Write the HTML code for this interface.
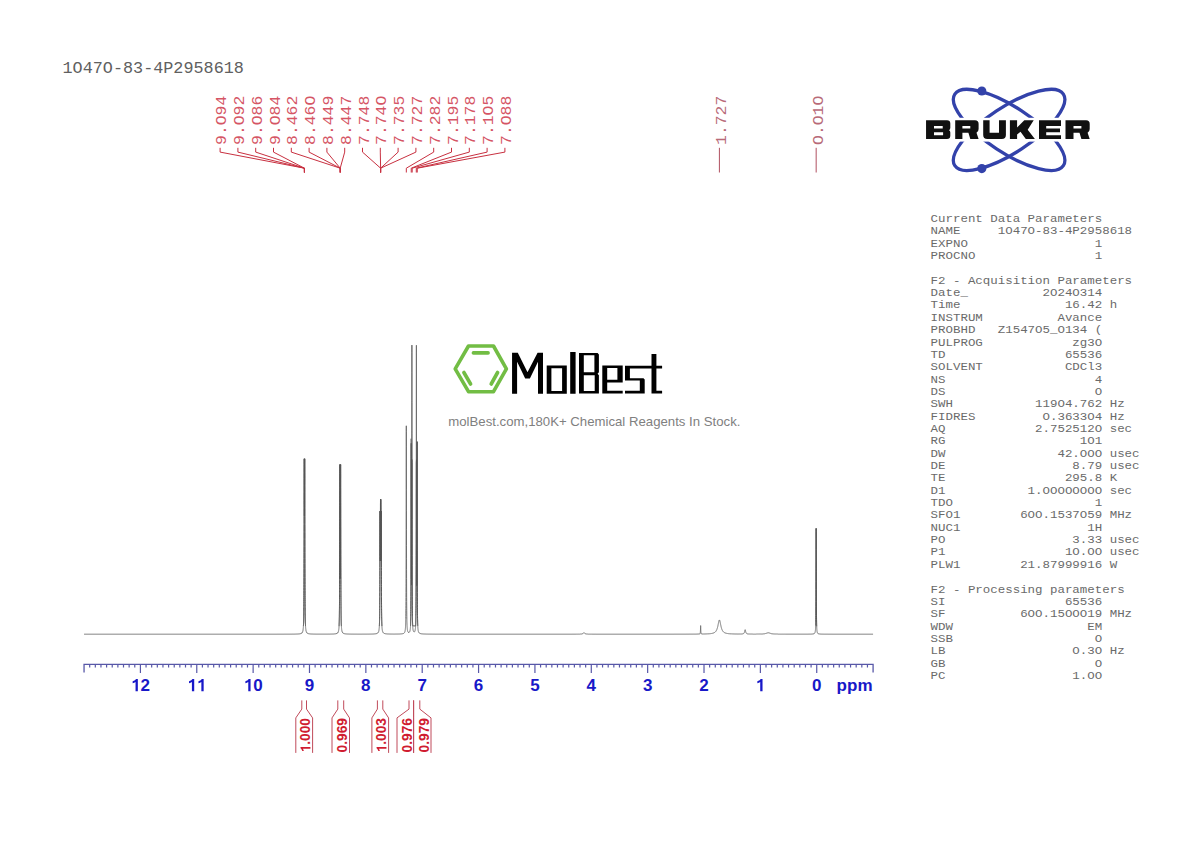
<!DOCTYPE html><html><head><meta charset="utf-8"><style>html,body{margin:0;padding:0;background:#fff;width:1190px;height:842px;overflow:hidden}svg{display:block}</style></head><body>
<svg width="1190" height="842" viewBox="0 0 1190 842">
<rect width="1190" height="842" fill="#fff"/>
<text transform="translate(62.5,72.6) scale(1,0.93)" font-family="Liberation Mono" font-size="16.8" fill="#606060">1O47O-83-4P2958618</text>
<text transform="translate(226.10,144.9) rotate(-90) scale(1,0.87)" font-family="Liberation Mono" font-size="16.4" fill="#d55565">9.O94</text>
<path d="M220.10 147.8V152.1L304.42 168.2V172.5" fill="none" stroke="#c83040" stroke-width="1"/>
<text transform="translate(243.90,144.9) rotate(-90) scale(1,0.87)" font-family="Liberation Mono" font-size="16.4" fill="#d55565">9.O92</text>
<path d="M237.90 147.8V152.1L304.42 168.2V172.5" fill="none" stroke="#c83040" stroke-width="1"/>
<text transform="translate(261.70,144.9) rotate(-90) scale(1,0.87)" font-family="Liberation Mono" font-size="16.4" fill="#d55565">9.O86</text>
<path d="M255.70 147.8V152.1L304.42 168.2V172.5" fill="none" stroke="#c83040" stroke-width="1"/>
<text transform="translate(279.50,144.9) rotate(-90) scale(1,0.87)" font-family="Liberation Mono" font-size="16.4" fill="#d55565">9.O84</text>
<path d="M273.50 147.8V152.1L304.42 168.2V172.5" fill="none" stroke="#c83040" stroke-width="1"/>
<text transform="translate(297.30,144.9) rotate(-90) scale(1,0.87)" font-family="Liberation Mono" font-size="16.4" fill="#d55565">8.462</text>
<path d="M291.30 147.8V152.1L340.21 168.2V172.5" fill="none" stroke="#c83040" stroke-width="1"/>
<text transform="translate(315.10,144.9) rotate(-90) scale(1,0.87)" font-family="Liberation Mono" font-size="16.4" fill="#d55565">8.46O</text>
<path d="M309.10 147.8V152.1L340.21 168.2V172.5" fill="none" stroke="#c83040" stroke-width="1"/>
<text transform="translate(332.90,144.9) rotate(-90) scale(1,0.87)" font-family="Liberation Mono" font-size="16.4" fill="#d55565">8.449</text>
<path d="M326.90 147.8V152.1L340.21 168.2V172.5" fill="none" stroke="#c83040" stroke-width="1"/>
<text transform="translate(350.70,144.9) rotate(-90) scale(1,0.87)" font-family="Liberation Mono" font-size="16.4" fill="#d55565">8.447</text>
<path d="M344.70 147.8V152.1L340.21 168.2V172.5" fill="none" stroke="#c83040" stroke-width="1"/>
<text transform="translate(368.50,144.9) rotate(-90) scale(1,0.87)" font-family="Liberation Mono" font-size="16.4" fill="#d55565">7.748</text>
<path d="M362.50 147.8V152.1L380.62 168.2V172.5" fill="none" stroke="#c83040" stroke-width="1"/>
<text transform="translate(386.30,144.9) rotate(-90) scale(1,0.87)" font-family="Liberation Mono" font-size="16.4" fill="#d55565">7.74O</text>
<path d="M380.30 147.8V152.1L380.62 168.2V172.5" fill="none" stroke="#c83040" stroke-width="1"/>
<text transform="translate(404.10,144.9) rotate(-90) scale(1,0.87)" font-family="Liberation Mono" font-size="16.4" fill="#d55565">7.735</text>
<path d="M398.10 147.8V152.1L380.62 168.2V172.5" fill="none" stroke="#c83040" stroke-width="1"/>
<text transform="translate(421.90,144.9) rotate(-90) scale(1,0.87)" font-family="Liberation Mono" font-size="16.4" fill="#d55565">7.727</text>
<path d="M415.90 147.8V152.1L380.62 168.2V172.5" fill="none" stroke="#c83040" stroke-width="1"/>
<text transform="translate(439.70,144.9) rotate(-90) scale(1,0.87)" font-family="Liberation Mono" font-size="16.4" fill="#d55565">7.282</text>
<path d="M433.70 147.8V152.1L406.32 168.2V172.5" fill="none" stroke="#c83040" stroke-width="1"/>
<text transform="translate(457.50,144.9) rotate(-90) scale(1,0.87)" font-family="Liberation Mono" font-size="16.4" fill="#d55565">7.195</text>
<path d="M451.50 147.8V152.1L411.22 168.2V172.5" fill="none" stroke="#c83040" stroke-width="1"/>
<text transform="translate(475.30,144.9) rotate(-90) scale(1,0.87)" font-family="Liberation Mono" font-size="16.4" fill="#d55565">7.178</text>
<path d="M469.30 147.8V152.1L412.18 168.2V172.5" fill="none" stroke="#c83040" stroke-width="1"/>
<text transform="translate(493.10,144.9) rotate(-90) scale(1,0.87)" font-family="Liberation Mono" font-size="16.4" fill="#d55565">7.1O5</text>
<path d="M487.10 147.8V152.1L416.29 168.2V172.5" fill="none" stroke="#c83040" stroke-width="1"/>
<text transform="translate(510.90,144.9) rotate(-90) scale(1,0.87)" font-family="Liberation Mono" font-size="16.4" fill="#d55565">7.O88</text>
<path d="M504.90 147.8V152.1L417.25 168.2V172.5" fill="none" stroke="#c83040" stroke-width="1"/>
<text transform="translate(725.80,144.9) rotate(-90) scale(1,0.87)" font-family="Liberation Mono" font-size="16.4" fill="#b86a78">1.727</text>
<path d="M719.40 147.8V172.5" fill="none" stroke="#b05060" stroke-width="1"/>
<text transform="translate(822.57,144.9) rotate(-90) scale(1,0.87)" font-family="Liberation Mono" font-size="16.4" fill="#b86a78">O.O1O</text>
<path d="M816.17 147.8V172.5" fill="none" stroke="#b05060" stroke-width="1"/>
<path d="M84.05 672.6V664.3H873.09V672.6" fill="none" stroke="#5858a8" stroke-width="1.3"/>
<path d="M89.69 664.3V667.5M95.32 664.3V667.5M100.96 664.3V667.5M106.59 664.3V667.5M112.23 664.3V667.5M117.87 664.3V667.5M123.50 664.3V667.5M129.14 664.3V667.5M134.77 664.3V667.5M140.41 664.3V673M146.05 664.3V667.5M151.68 664.3V667.5M157.32 664.3V667.5M162.95 664.3V667.5M168.59 664.3V667.5M174.23 664.3V667.5M179.86 664.3V667.5M185.50 664.3V667.5M191.13 664.3V667.5M196.77 664.3V673M202.41 664.3V667.5M208.04 664.3V667.5M213.68 664.3V667.5M219.31 664.3V667.5M224.95 664.3V667.5M230.59 664.3V667.5M236.22 664.3V667.5M241.86 664.3V667.5M247.49 664.3V667.5M253.13 664.3V673M258.77 664.3V667.5M264.40 664.3V667.5M270.04 664.3V667.5M275.67 664.3V667.5M281.31 664.3V667.5M286.95 664.3V667.5M292.58 664.3V667.5M298.22 664.3V667.5M303.85 664.3V667.5M309.49 664.3V673M315.13 664.3V667.5M320.76 664.3V667.5M326.40 664.3V667.5M332.03 664.3V667.5M337.67 664.3V667.5M343.31 664.3V667.5M348.94 664.3V667.5M354.58 664.3V667.5M360.21 664.3V667.5M365.85 664.3V673M371.49 664.3V667.5M377.12 664.3V667.5M382.76 664.3V667.5M388.39 664.3V667.5M394.03 664.3V667.5M399.67 664.3V667.5M405.30 664.3V667.5M410.94 664.3V667.5M416.57 664.3V667.5M422.21 664.3V673M427.85 664.3V667.5M433.48 664.3V667.5M439.12 664.3V667.5M444.75 664.3V667.5M450.39 664.3V667.5M456.03 664.3V667.5M461.66 664.3V667.5M467.30 664.3V667.5M472.93 664.3V667.5M478.57 664.3V673M484.21 664.3V667.5M489.84 664.3V667.5M495.48 664.3V667.5M501.11 664.3V667.5M506.75 664.3V667.5M512.39 664.3V667.5M518.02 664.3V667.5M523.66 664.3V667.5M529.29 664.3V667.5M534.93 664.3V673M540.57 664.3V667.5M546.20 664.3V667.5M551.84 664.3V667.5M557.47 664.3V667.5M563.11 664.3V667.5M568.75 664.3V667.5M574.38 664.3V667.5M580.02 664.3V667.5M585.65 664.3V667.5M591.29 664.3V673M596.93 664.3V667.5M602.56 664.3V667.5M608.20 664.3V667.5M613.83 664.3V667.5M619.47 664.3V667.5M625.11 664.3V667.5M630.74 664.3V667.5M636.38 664.3V667.5M642.01 664.3V667.5M647.65 664.3V673M653.29 664.3V667.5M658.92 664.3V667.5M664.56 664.3V667.5M670.19 664.3V667.5M675.83 664.3V667.5M681.47 664.3V667.5M687.10 664.3V667.5M692.74 664.3V667.5M698.37 664.3V667.5M704.01 664.3V673M709.65 664.3V667.5M715.28 664.3V667.5M720.92 664.3V667.5M726.55 664.3V667.5M732.19 664.3V667.5M737.83 664.3V667.5M743.46 664.3V667.5M749.10 664.3V667.5M754.73 664.3V667.5M760.37 664.3V673M766.01 664.3V667.5M771.64 664.3V667.5M777.28 664.3V667.5M782.91 664.3V667.5M788.55 664.3V667.5M794.19 664.3V667.5M799.82 664.3V667.5M805.46 664.3V667.5M811.09 664.3V667.5M816.73 664.3V673M822.37 664.3V667.5M828.00 664.3V667.5M833.64 664.3V667.5M839.27 664.3V667.5M844.91 664.3V667.5M850.55 664.3V667.5M856.18 664.3V667.5M861.82 664.3V667.5M867.45 664.3V667.5" fill="none" stroke="#5858a8" stroke-width="1.2"/>
<text x="812.00" y="691.2" font-family="Liberation Sans" font-weight="bold" font-size="17" fill="#1818c8">0</text>
<path transform="translate(755.64,691.20) scale(17,-17)" d="M0.27 0H0.405V0.716H0.30Q0.27 0.64 0.10 0.585V0.475Q0.20 0.50 0.27 0.545Z" fill="#1818c8"/>
<text x="699.28" y="691.2" font-family="Liberation Sans" font-weight="bold" font-size="17" fill="#1818c8">2</text>
<text x="642.92" y="691.2" font-family="Liberation Sans" font-weight="bold" font-size="17" fill="#1818c8">3</text>
<text x="586.56" y="691.2" font-family="Liberation Sans" font-weight="bold" font-size="17" fill="#1818c8">4</text>
<text x="530.20" y="691.2" font-family="Liberation Sans" font-weight="bold" font-size="17" fill="#1818c8">5</text>
<text x="473.84" y="691.2" font-family="Liberation Sans" font-weight="bold" font-size="17" fill="#1818c8">6</text>
<text x="417.48" y="691.2" font-family="Liberation Sans" font-weight="bold" font-size="17" fill="#1818c8">7</text>
<text x="361.12" y="691.2" font-family="Liberation Sans" font-weight="bold" font-size="17" fill="#1818c8">8</text>
<text x="304.76" y="691.2" font-family="Liberation Sans" font-weight="bold" font-size="17" fill="#1818c8">9</text>
<path transform="translate(243.68,691.20) scale(17,-17)" d="M0.27 0H0.405V0.716H0.30Q0.27 0.64 0.10 0.585V0.475Q0.20 0.50 0.27 0.545Z" fill="#1818c8"/>
<text x="253.13" y="691.2" font-family="Liberation Sans" font-weight="bold" font-size="17" fill="#1818c8">0</text>
<path transform="translate(187.32,691.20) scale(17,-17)" d="M0.27 0H0.405V0.716H0.30Q0.27 0.64 0.10 0.585V0.475Q0.20 0.50 0.27 0.545Z" fill="#1818c8"/>
<path transform="translate(196.77,691.20) scale(17,-17)" d="M0.27 0H0.405V0.716H0.30Q0.27 0.64 0.10 0.585V0.475Q0.20 0.50 0.27 0.545Z" fill="#1818c8"/>
<path transform="translate(130.96,691.20) scale(17,-17)" d="M0.27 0H0.405V0.716H0.30Q0.27 0.64 0.10 0.585V0.475Q0.20 0.50 0.27 0.545Z" fill="#1818c8"/>
<text x="140.41" y="691.2" font-family="Liberation Sans" font-weight="bold" font-size="17" fill="#1818c8">2</text>
<text x="872.5" y="691.2" text-anchor="end" font-family="Liberation Sans" font-weight="bold" font-size="17" fill="#1818c8">ppm</text>
<polyline points="84.05,634.20 84.55,634.20 85.05,634.20 85.55,634.20 86.05,634.20 86.55,634.20 87.05,634.20 87.55,634.20 88.05,634.20 88.55,634.20 89.05,634.20 89.55,634.20 90.05,634.20 90.55,634.20 91.05,634.20 91.55,634.20 92.05,634.20 92.55,634.20 93.05,634.20 93.55,634.20 94.05,634.20 94.55,634.20 95.05,634.20 95.55,634.20 96.05,634.20 96.55,634.20 97.05,634.20 97.55,634.20 98.05,634.20 98.55,634.20 99.05,634.20 99.55,634.20 100.05,634.20 100.55,634.20 101.05,634.20 101.55,634.20 102.05,634.20 102.55,634.20 103.05,634.20 103.55,634.20 104.05,634.20 104.55,634.20 105.05,634.20 105.55,634.20 106.05,634.20 106.55,634.20 107.05,634.20 107.55,634.20 108.05,634.20 108.55,634.20 109.05,634.20 109.55,634.20 110.05,634.20 110.55,634.20 111.05,634.20 111.55,634.20 112.05,634.20 112.55,634.20 113.05,634.20 113.55,634.20 114.05,634.20 114.55,634.20 115.05,634.20 115.55,634.20 116.05,634.20 116.55,634.20 117.05,634.20 117.55,634.20 118.05,634.20 118.55,634.20 119.05,634.20 119.55,634.20 120.05,634.20 120.55,634.20 121.05,634.20 121.55,634.20 122.05,634.20 122.55,634.20 123.05,634.20 123.55,634.20 124.05,634.20 124.55,634.20 125.05,634.20 125.55,634.20 126.05,634.20 126.55,634.20 127.05,634.20 127.55,634.20 128.05,634.20 128.55,634.20 129.05,634.20 129.55,634.20 130.05,634.20 130.55,634.20 131.05,634.20 131.55,634.20 132.05,634.20 132.55,634.20 133.05,634.20 133.55,634.20 134.05,634.20 134.55,634.20 135.05,634.20 135.55,634.20 136.05,634.20 136.55,634.20 137.05,634.20 137.55,634.20 138.05,634.20 138.55,634.20 139.05,634.20 139.55,634.20 140.05,634.20 140.55,634.20 141.05,634.20 141.55,634.20 142.05,634.20 142.55,634.20 143.05,634.20 143.55,634.20 144.05,634.20 144.55,634.20 145.05,634.20 145.55,634.20 146.05,634.20 146.55,634.20 147.05,634.20 147.55,634.20 148.05,634.20 148.55,634.20 149.05,634.20 149.55,634.20 150.05,634.20 150.55,634.20 151.05,634.20 151.55,634.20 152.05,634.20 152.55,634.20 153.05,634.20 153.55,634.20 154.05,634.20 154.55,634.20 155.05,634.20 155.55,634.20 156.05,634.20 156.55,634.20 157.05,634.20 157.55,634.20 158.05,634.20 158.55,634.20 159.05,634.20 159.55,634.20 160.05,634.20 160.55,634.20 161.05,634.20 161.55,634.20 162.05,634.20 162.55,634.20 163.05,634.20 163.55,634.20 164.05,634.20 164.55,634.20 165.05,634.20 165.55,634.20 166.05,634.20 166.55,634.20 167.05,634.20 167.55,634.20 168.05,634.20 168.55,634.20 169.05,634.20 169.55,634.20 170.05,634.20 170.55,634.20 171.05,634.20 171.55,634.20 172.05,634.20 172.55,634.20 173.05,634.20 173.55,634.20 174.05,634.20 174.55,634.20 175.05,634.20 175.55,634.20 176.05,634.20 176.55,634.20 177.05,634.20 177.55,634.20 178.05,634.20 178.55,634.20 179.05,634.20 179.55,634.20 180.05,634.20 180.55,634.20 181.05,634.20 181.55,634.20 182.05,634.20 182.55,634.20 183.05,634.20 183.55,634.20 184.05,634.20 184.55,634.20 185.05,634.20 185.55,634.20 186.05,634.20 186.55,634.20 187.05,634.20 187.55,634.20 188.05,634.20 188.55,634.20 189.05,634.20 189.55,634.20 190.05,634.20 190.55,634.20 191.05,634.20 191.55,634.20 192.05,634.20 192.55,634.20 193.05,634.20 193.55,634.20 194.05,634.20 194.55,634.20 195.05,634.20 195.55,634.20 196.05,634.20 196.55,634.20 197.05,634.20 197.55,634.20 198.05,634.20 198.55,634.20 199.05,634.20 199.55,634.20 200.05,634.20 200.55,634.20 201.05,634.20 201.55,634.20 202.05,634.20 202.55,634.20 203.05,634.20 203.55,634.20 204.05,634.20 204.55,634.20 205.05,634.20 205.55,634.20 206.05,634.20 206.55,634.20 207.05,634.20 207.55,634.20 208.05,634.20 208.55,634.20 209.05,634.20 209.55,634.20 210.05,634.20 210.55,634.20 211.05,634.20 211.55,634.20 212.05,634.20 212.55,634.20 213.05,634.20 213.55,634.20 214.05,634.20 214.55,634.20 215.05,634.20 215.55,634.20 216.05,634.20 216.55,634.20 217.05,634.20 217.55,634.20 218.05,634.20 218.55,634.20 219.05,634.20 219.55,634.20 220.05,634.20 220.55,634.20 221.05,634.20 221.55,634.20 222.05,634.20 222.55,634.20 223.05,634.20 223.55,634.20 224.05,634.20 224.55,634.20 225.05,634.20 225.55,634.20 226.05,634.20 226.55,634.20 227.05,634.20 227.55,634.20 228.05,634.20 228.55,634.20 229.05,634.20 229.55,634.20 230.05,634.20 230.55,634.20 231.05,634.20 231.55,634.20 232.05,634.20 232.55,634.20 233.05,634.20 233.55,634.20 234.05,634.20 234.55,634.20 235.05,634.20 235.55,634.20 236.05,634.20 236.55,634.20 237.05,634.20 237.55,634.20 238.05,634.20 238.55,634.20 239.05,634.20 239.55,634.20 240.05,634.20 240.55,634.20 241.05,634.20 241.55,634.20 242.05,634.20 242.55,634.20 243.05,634.20 243.55,634.20 244.05,634.20 244.55,634.20 245.05,634.20 245.55,634.20 246.05,634.20 246.55,634.20 247.05,634.20 247.55,634.20 248.05,634.20 248.55,634.19 249.05,634.19 249.55,634.19 250.05,634.19 250.55,634.19 251.05,634.19 251.55,634.19 252.05,634.19 252.55,634.19 253.05,634.19 253.55,634.19 254.05,634.19 254.55,634.19 255.05,634.19 255.55,634.19 256.05,634.19 256.55,634.19 257.05,634.19 257.55,634.19 258.05,634.19 258.55,634.19 259.05,634.19 259.55,634.19 260.05,634.19 260.55,634.19 261.05,634.19 261.55,634.19 262.05,634.19 262.55,634.19 263.05,634.19 263.55,634.19 264.05,634.19 264.55,634.19 265.05,634.19 265.55,634.19 266.05,634.19 266.55,634.19 267.05,634.19 267.55,634.19 268.05,634.19 268.55,634.19 269.05,634.19 269.55,634.19 270.05,634.19 270.55,634.19 271.05,634.19 271.55,634.19 272.05,634.19 272.55,634.19 273.05,634.19 273.55,634.19 274.05,634.19 274.55,634.19 275.05,634.19 275.55,634.19 276.05,634.19 276.55,634.19 277.05,634.19 277.55,634.18 278.05,634.18 278.55,634.18 279.05,634.18 279.55,634.18 280.05,634.18 280.55,634.18 281.05,634.18 281.55,634.18 282.05,634.18 282.55,634.18 283.05,634.18 283.55,634.18 284.05,634.18 284.55,634.17 285.05,634.17 285.55,634.17 286.05,634.17 286.55,634.17 287.05,634.17 287.55,634.17 288.05,634.16 288.55,634.16 289.05,634.16 289.55,634.16 290.05,634.16 290.55,634.15 291.05,634.15 291.55,634.15 292.05,634.14 292.55,634.14 293.05,634.13 293.55,634.13 294.05,634.12 294.55,634.11 295.05,634.10 295.55,634.09 296.05,634.08 296.55,634.06 297.05,634.05 297.55,634.02 298.05,634.00 298.55,633.96 299.05,633.92 299.55,633.86 300.05,633.78 300.55,633.66 301.05,633.50 301.29,633.39 301.32,633.37 301.34,633.36 301.37,633.35 301.39,633.33 301.40,633.33 301.42,633.32 301.43,633.31 301.44,633.30 301.45,633.30 301.47,633.29 301.48,633.28 301.49,633.27 301.50,633.26 301.52,633.26 301.53,633.25 301.54,633.24 301.55,633.24 301.56,633.23 301.57,633.22 301.58,633.22 301.59,633.21 301.61,633.20 301.62,633.19 301.63,633.18 301.64,633.17 301.65,633.16 301.67,633.15 301.68,633.14 301.69,633.13 301.70,633.12 301.72,633.11 301.73,633.10 301.74,633.09 301.74,633.09 301.75,633.08 301.77,633.07 301.77,633.07 301.78,633.06 301.79,633.05 301.79,633.05 301.81,633.04 301.82,633.03 301.82,633.03 301.83,633.02 301.84,633.01 301.84,633.01 301.86,633.00 301.86,632.99 301.87,632.98 301.87,632.98 301.88,632.97 301.88,632.97 301.89,632.96 301.89,632.96 301.90,632.95 301.91,632.95 301.92,632.94 301.92,632.93 301.93,632.92 301.93,632.92 301.94,632.91 301.94,632.91 301.95,632.90 301.96,632.90 301.97,632.88 301.97,632.88 301.98,632.87 301.98,632.87 301.99,632.86 301.99,632.86 302.00,632.84 302.01,632.84 302.02,632.83 302.02,632.83 302.03,632.81 302.03,632.81 302.04,632.80 302.04,632.80 302.05,632.79 302.06,632.78 302.06,632.78 302.07,632.77 302.07,632.77 302.08,632.75 302.08,632.75 302.09,632.74 302.09,632.74 302.11,632.72 302.11,632.72 302.12,632.71 302.12,632.71 302.13,632.69 302.13,632.69 302.14,632.67 302.14,632.67 302.15,632.66 302.16,632.66 302.17,632.64 302.17,632.64 302.18,632.62 302.18,632.62 302.19,632.61 302.19,632.60 302.20,632.59 302.21,632.59 302.22,632.57 302.22,632.57 302.23,632.55 302.23,632.55 302.24,632.53 302.24,632.53 302.25,632.51 302.26,632.51 302.27,632.49 302.27,632.49 302.28,632.47 302.28,632.47 302.29,632.45 302.29,632.45 302.31,632.43 302.31,632.43 302.32,632.41 302.32,632.41 302.33,632.39 302.33,632.39 302.34,632.37 302.34,632.37 302.36,632.34 302.36,632.34 302.37,632.32 302.37,632.32 302.38,632.30 302.38,632.30 302.39,632.28 302.39,632.27 302.40,632.25 302.41,632.25 302.42,632.23 302.42,632.23 302.43,632.20 302.43,632.20 302.44,632.18 302.44,632.18 302.45,632.15 302.46,632.15 302.47,632.13 302.47,632.12 302.48,632.10 302.48,632.10 302.49,632.07 302.49,632.07 302.50,632.04 302.51,632.04 302.52,632.01 302.52,632.01 302.53,631.98 302.53,631.98 302.54,631.96 302.54,631.95 302.55,631.94 302.56,631.92 302.56,631.92 302.57,631.89 302.57,631.89 302.58,631.86 302.58,631.86 302.59,631.83 302.59,631.83 302.61,631.80 302.61,631.79 302.62,631.76 302.62,631.76 302.63,631.73 302.63,631.73 302.64,631.70 302.64,631.69 302.65,631.66 302.66,631.66 302.67,631.62 302.67,631.62 302.68,631.58 302.68,631.58 302.69,631.55 302.69,631.54 302.70,631.51 302.71,631.50 302.72,631.47 302.72,631.46 302.73,631.43 302.73,631.42 302.74,631.39 302.74,631.38 302.75,631.34 302.76,631.34 302.77,631.30 302.77,631.29 302.78,631.25 302.78,631.25 302.79,631.21 302.79,631.20 302.81,631.16 302.81,631.15 302.82,631.11 302.82,631.11 302.83,631.06 302.83,631.06 302.84,631.01 302.84,631.01 302.86,630.96 302.86,630.95 302.87,630.91 302.87,630.90 302.88,630.85 302.88,630.85 302.89,630.80 302.89,630.79 302.90,630.74 302.91,630.73 302.92,630.68 302.92,630.68 302.93,630.62 302.93,630.61 302.94,630.56 302.94,630.55 302.95,630.49 302.96,630.49 302.97,630.43 302.97,630.42 302.98,630.36 302.98,630.35 302.99,630.29 302.99,630.29 303.00,630.22 303.01,630.21 303.02,630.15 303.02,630.14 303.03,630.07 303.03,630.07 303.04,630.00 303.04,629.99 303.05,629.95 303.06,629.92 303.06,629.91 303.07,629.84 303.07,629.83 303.08,629.75 303.08,629.74 303.09,629.67 303.09,629.66 303.11,629.58 303.11,629.57 303.12,629.49 303.12,629.48 303.13,629.39 303.13,629.38 303.14,629.30 303.14,629.29 303.15,629.19 303.16,629.18 303.17,629.09 303.17,629.08 303.18,628.98 303.18,628.97 303.19,628.87 303.19,628.87 303.20,628.76 303.21,628.75 303.22,628.64 303.22,628.63 303.23,628.52 303.23,628.51 303.24,628.40 303.24,628.38 303.25,628.26 303.26,628.25 303.27,628.13 303.27,628.12 303.28,627.98 303.28,627.97 303.29,627.85 303.29,627.83 303.31,627.69 303.31,627.68 303.32,627.54 303.32,627.53 303.33,627.37 303.33,627.36 303.34,627.21 303.34,627.20 303.36,627.03 303.36,627.02 303.37,626.86 303.37,626.85 303.38,626.67 303.38,626.65 303.39,626.48 303.39,626.46 303.40,626.27 303.41,626.25 303.42,626.07 303.42,626.05 303.43,625.84 303.43,625.82 303.44,625.62 303.44,625.60 303.45,625.37 303.46,625.35 303.47,625.13 303.47,625.11 303.48,624.86 303.48,624.84 303.49,624.60 303.49,624.58 303.50,624.30 303.51,624.28 303.52,624.02 303.52,623.99 303.53,623.70 303.53,623.67 303.54,623.38 303.54,623.36 303.55,623.17 303.56,623.03 303.56,623.00 303.57,622.68 303.57,622.65 303.58,622.29 303.58,622.26 303.59,621.91 303.59,621.88 303.61,621.48 303.61,621.45 303.62,621.06 303.62,621.02 303.63,620.58 303.63,620.54 303.64,620.11 303.64,620.07 303.65,619.57 303.66,619.53 303.67,619.05 303.67,619.01 303.68,618.45 303.68,618.40 303.69,617.87 303.69,617.82 303.70,617.19 303.71,617.14 303.72,616.53 303.72,616.48 303.73,615.77 303.73,615.71 303.74,615.02 303.74,614.96 303.75,614.16 303.76,614.09 303.77,613.31 303.77,613.24 303.78,612.32 303.78,612.25 303.79,611.35 303.79,611.27 303.81,610.22 303.81,610.13 303.82,609.10 303.82,609.00 303.83,607.79 303.83,607.68 303.84,606.49 303.84,606.38 303.86,604.97 303.86,604.85 303.87,603.45 303.87,603.32 303.88,601.68 303.88,601.53 303.89,599.89 303.89,599.74 303.90,597.80 303.91,597.63 303.92,595.69 303.92,595.51 303.93,593.21 303.93,593.01 303.94,590.70 303.94,590.48 303.95,587.73 303.96,587.49 303.97,584.73 303.97,584.47 303.98,581.17 303.98,580.88 303.99,577.57 303.99,577.25 304.00,573.29 304.01,572.94 304.02,568.96 304.02,568.58 304.03,563.82 304.03,563.41 304.04,558.64 304.04,558.19 304.05,554.95 304.06,552.53 304.06,552.04 304.07,546.43 304.07,545.90 304.08,539.31 304.08,538.74 304.09,532.30 304.09,531.70 304.11,524.32 304.11,523.69 304.12,516.67 304.12,516.02 304.13,508.25 304.13,507.60 304.14,500.52 304.14,499.88 304.15,492.42 304.16,491.82 304.17,485.43 304.17,484.87 304.18,478.58 304.18,478.09 304.19,473.09 304.19,472.67 304.20,468.14 304.21,467.80 304.22,464.52 304.22,464.26 304.23,461.63 304.23,461.45 304.24,459.85 304.24,459.74 304.25,458.86 304.26,458.82 304.27,458.80 304.27,458.84 304.28,459.69 304.28,459.80 304.29,461.42 304.29,461.60 304.31,464.27 304.31,464.54 304.32,467.77 304.32,468.10 304.33,472.38 304.33,472.76 304.34,477.22 304.34,477.64 304.36,482.85 304.36,483.29 304.37,488.18 304.37,488.62 304.38,493.84 304.38,494.26 304.39,498.77 304.39,499.16 304.40,503.59 304.41,503.94 304.42,507.46 304.42,507.75 304.43,510.90 304.43,511.13 304.44,513.34 304.44,513.51 304.45,515.13 304.46,515.23 304.47,515.97 304.47,516.01 304.48,516.00 304.48,515.97 304.49,515.22 304.49,515.12 304.50,513.49 304.51,513.32 304.52,511.12 304.52,510.88 304.53,507.73 304.53,507.43 304.54,503.91 304.54,503.57 304.55,501.04 304.56,499.13 304.56,498.73 304.57,494.23 304.57,493.81 304.58,488.58 304.58,488.14 304.59,483.26 304.59,482.81 304.61,477.60 304.61,477.18 304.62,472.73 304.62,472.35 304.63,468.07 304.63,467.75 304.64,464.51 304.64,464.25 304.65,461.59 304.66,461.41 304.67,459.80 304.67,459.69 304.68,458.83 304.68,458.80 304.69,458.82 304.69,458.86 304.70,459.75 304.71,459.86 304.72,461.46 304.72,461.64 304.73,464.29 304.73,464.55 304.74,467.83 304.74,468.16 304.75,472.70 304.76,473.12 304.77,478.13 304.77,478.62 304.78,484.91 304.78,485.47 304.79,491.87 304.79,492.47 304.81,499.93 304.81,500.57 304.82,507.65 304.82,508.30 304.83,516.08 304.83,516.72 304.84,523.74 304.84,524.37 304.86,531.75 304.86,532.35 304.87,538.78 304.87,539.35 304.88,545.94 304.88,546.47 304.89,552.08 304.89,552.57 304.90,558.23 304.91,558.68 304.92,563.44 304.92,563.86 304.93,568.61 304.93,568.99 304.94,572.97 304.94,573.32 304.95,577.28 304.96,577.59 304.97,580.91 304.97,581.20 304.98,584.49 304.98,584.75 304.99,587.51 304.99,587.75 305.00,590.50 305.01,590.72 305.02,593.02 305.02,593.22 305.03,595.52 305.03,595.71 305.04,597.64 305.04,597.81 305.05,598.96 305.06,599.75 305.06,599.91 305.07,601.54 305.07,601.69 305.08,603.33 305.08,603.46 305.09,604.86 305.09,604.98 305.11,606.39 305.11,606.50 305.12,607.69 305.12,607.80 305.13,609.01 305.13,609.10 305.14,610.13 305.14,610.23 305.15,611.27 305.16,611.36 305.17,612.25 305.17,612.33 305.18,613.24 305.18,613.31 305.19,614.10 305.19,614.17 305.20,614.96 305.21,615.03 305.22,615.72 305.22,615.78 305.23,616.48 305.23,616.54 305.24,617.14 305.24,617.20 305.25,617.82 305.26,617.87 305.27,618.41 305.27,618.46 305.28,619.01 305.28,619.05 305.29,619.53 305.29,619.58 305.31,620.07 305.31,620.11 305.32,620.54 305.32,620.58 305.33,621.02 305.33,621.06 305.34,621.45 305.34,621.48 305.36,621.88 305.36,621.91 305.37,622.26 305.37,622.29 305.38,622.66 305.38,622.69 305.39,623.00 305.39,623.03 305.40,623.36 305.41,623.38 305.42,623.67 305.42,623.70 305.43,624.00 305.43,624.02 305.44,624.28 305.44,624.31 305.45,624.58 305.46,624.60 305.47,624.84 305.47,624.86 305.48,625.11 305.48,625.13 305.49,625.35 305.49,625.37 305.50,625.60 305.51,625.62 305.52,625.82 305.52,625.84 305.53,626.05 305.53,626.07 305.54,626.25 305.54,626.27 305.55,626.38 305.56,626.46 305.56,626.48 305.57,626.65 305.57,626.67 305.58,626.85 305.58,626.86 305.59,627.02 305.59,627.03 305.61,627.20 305.61,627.21 305.62,627.36 305.62,627.37 305.63,627.53 305.63,627.54 305.64,627.68 305.64,627.69 305.65,627.83 305.66,627.85 305.67,627.97 305.67,627.98 305.68,628.12 305.68,628.13 305.69,628.25 305.69,628.26 305.70,628.38 305.71,628.39 305.72,628.51 305.72,628.52 305.73,628.63 305.73,628.64 305.74,628.75 305.74,628.76 305.75,628.87 305.76,628.87 305.77,628.97 305.77,628.98 305.78,629.08 305.78,629.09 305.79,629.18 305.79,629.19 305.81,629.29 305.81,629.30 305.82,629.38 305.82,629.39 305.83,629.48 305.83,629.49 305.84,629.57 305.84,629.58 305.86,629.66 305.86,629.67 305.87,629.74 305.87,629.75 305.88,629.83 305.88,629.84 305.89,629.91 305.89,629.92 305.90,629.99 305.91,630.00 305.92,630.07 305.92,630.07 305.93,630.14 305.93,630.15 305.94,630.21 305.94,630.22 305.95,630.29 305.96,630.29 305.97,630.35 305.97,630.36 305.98,630.42 305.98,630.43 305.99,630.49 305.99,630.49 306.00,630.55 306.01,630.56 306.02,630.61 306.02,630.62 306.03,630.68 306.03,630.68 306.04,630.73 306.04,630.74 306.05,630.77 306.06,630.79 306.06,630.80 306.07,630.85 306.07,630.85 306.08,630.90 306.08,630.91 306.09,630.95 306.09,630.96 306.11,631.01 306.11,631.01 306.12,631.06 306.12,631.06 306.13,631.11 306.13,631.11 306.14,631.15 306.14,631.16 306.15,631.20 306.16,631.21 306.17,631.25 306.17,631.25 306.18,631.29 306.18,631.30 306.19,631.34 306.19,631.34 306.20,631.38 306.21,631.38 306.22,631.42 306.22,631.42 306.23,631.46 306.23,631.47 306.24,631.50 306.24,631.51 306.25,631.54 306.26,631.55 306.27,631.58 306.27,631.58 306.28,631.62 306.28,631.62 306.29,631.65 306.29,631.66 306.31,631.69 306.31,631.69 306.32,631.72 306.32,631.73 306.33,631.76 306.33,631.76 306.34,631.79 306.34,631.80 306.36,631.83 306.36,631.83 306.37,631.86 306.37,631.86 306.38,631.89 306.38,631.89 306.39,631.92 306.39,631.92 306.40,631.95 306.41,631.95 306.42,631.98 306.42,631.98 306.43,632.01 306.43,632.01 306.44,632.04 306.44,632.04 306.45,632.07 306.46,632.07 306.47,632.09 306.47,632.10 306.48,632.12 306.48,632.12 306.49,632.15 306.49,632.15 306.50,632.17 306.51,632.18 306.52,632.20 306.52,632.20 306.53,632.22 306.53,632.23 306.54,632.25 306.54,632.25 306.55,632.26 306.56,632.27 306.56,632.27 306.57,632.30 306.57,632.30 306.58,632.32 306.58,632.32 306.59,632.34 306.59,632.34 306.61,632.36 306.61,632.37 306.62,632.39 306.62,632.39 306.63,632.41 306.63,632.41 306.64,632.43 306.64,632.43 306.65,632.45 306.66,632.45 306.67,632.47 306.67,632.47 306.68,632.49 306.68,632.49 306.69,632.51 306.69,632.51 306.70,632.53 306.71,632.53 306.72,632.55 306.72,632.55 306.73,632.57 306.73,632.57 306.74,632.58 306.74,632.59 306.75,632.60 306.76,632.60 306.77,632.62 306.77,632.62 306.78,632.64 306.78,632.64 306.79,632.65 306.79,632.66 306.81,632.67 306.81,632.67 306.82,632.69 306.82,632.69 306.83,632.70 306.83,632.71 306.84,632.72 306.84,632.72 306.86,632.74 306.86,632.74 306.87,632.75 306.87,632.75 306.88,632.77 306.88,632.77 306.89,632.78 306.89,632.78 306.90,632.80 306.91,632.80 306.92,632.81 306.92,632.81 306.93,632.83 306.93,632.83 306.94,632.84 306.94,632.84 306.95,632.85 306.96,632.85 306.97,632.87 306.97,632.87 306.98,632.88 306.98,632.88 306.99,632.89 306.99,632.89 307.00,632.91 307.01,632.91 307.02,632.92 307.02,632.92 307.03,632.93 307.03,632.93 307.04,632.94 307.04,632.95 307.05,632.95 307.06,632.96 307.06,632.96 307.07,632.97 307.07,632.97 307.08,632.98 307.08,632.98 307.09,632.99 307.11,633.00 307.11,633.01 307.12,633.02 307.13,633.03 307.13,633.03 307.14,633.04 307.15,633.05 307.16,633.05 307.17,633.06 307.18,633.07 307.18,633.07 307.19,633.08 307.21,633.09 307.22,633.10 307.23,633.11 307.24,633.12 307.26,633.13 307.27,633.14 307.28,633.15 307.29,633.16 307.31,633.17 307.32,633.18 307.33,633.19 307.34,633.20 307.36,633.20 307.37,633.21 307.38,633.22 307.39,633.23 307.41,633.24 307.42,633.25 307.43,633.25 307.44,633.26 307.46,633.27 307.47,633.28 307.48,633.29 307.49,633.29 307.51,633.30 307.52,633.31 307.53,633.32 307.55,633.33 307.56,633.33 307.58,633.34 307.61,633.36 307.63,633.37 308.05,633.55 308.55,633.70 309.05,633.80 309.55,633.87 310.05,633.93 310.55,633.97 311.05,634.00 311.55,634.02 312.05,634.05 312.55,634.06 313.05,634.08 313.55,634.09 314.05,634.10 314.55,634.10 315.05,634.11 315.55,634.12 316.05,634.12 316.55,634.13 317.05,634.13 317.55,634.13 318.05,634.13 318.55,634.14 319.05,634.14 319.55,634.14 320.05,634.14 320.55,634.14 321.05,634.14 321.55,634.14 322.05,634.14 322.55,634.14 323.05,634.14 323.55,634.14 324.05,634.14 324.55,634.14 325.05,634.14 325.55,634.14 326.05,634.14 326.55,634.13 327.05,634.13 327.55,634.13 328.05,634.12 328.55,634.12 329.05,634.11 329.55,634.11 330.05,634.10 330.55,634.09 331.05,634.08 331.55,634.07 332.05,634.06 332.55,634.04 333.05,634.02 333.55,634.00 334.05,633.96 334.55,633.92 335.05,633.87 335.55,633.80 336.05,633.70 336.55,633.55 336.91,633.40 336.94,633.39 336.96,633.38 336.99,633.36 337.01,633.35 337.02,633.35 337.04,633.34 337.05,633.33 337.05,633.33 337.06,633.32 337.07,633.32 337.09,633.31 337.10,633.30 337.11,633.30 337.12,633.29 337.14,633.28 337.15,633.27 337.16,633.26 337.17,633.26 337.19,633.25 337.20,633.24 337.21,633.23 337.22,633.23 337.24,633.22 337.25,633.21 337.26,633.20 337.27,633.19 337.29,633.18 337.30,633.17 337.31,633.16 337.32,633.15 337.34,633.15 337.35,633.14 337.36,633.13 337.37,633.12 337.39,633.11 337.40,633.10 337.41,633.09 337.42,633.08 337.44,633.07 337.45,633.06 337.46,633.04 337.47,633.03 337.49,633.02 337.50,633.01 337.51,633.00 337.52,632.99 337.54,632.98 337.55,632.97 337.55,632.96 337.56,632.95 337.57,632.94 337.59,632.93 337.60,632.92 337.61,632.90 337.62,632.89 337.64,632.88 337.64,632.87 337.65,632.86 337.66,632.85 337.67,632.84 337.67,632.84 337.69,632.82 337.69,632.81 337.70,632.81 337.71,632.79 337.72,632.78 337.72,632.78 337.74,632.76 337.74,632.75 337.75,632.75 337.76,632.74 337.76,632.73 337.77,632.72 337.77,632.72 337.78,632.71 337.79,632.70 337.79,632.69 337.80,632.69 337.81,632.67 337.81,632.67 337.82,632.66 337.82,632.65 337.83,632.64 337.84,632.63 337.84,632.62 337.85,632.62 337.86,632.61 337.86,632.60 337.87,632.59 337.87,632.58 337.88,632.57 337.89,632.56 337.89,632.55 337.90,632.54 337.91,632.53 337.91,632.53 337.92,632.51 337.92,632.51 337.93,632.49 337.94,632.49 337.94,632.48 337.95,632.47 337.96,632.45 337.96,632.45 337.97,632.43 337.97,632.43 337.98,632.41 337.99,632.40 337.99,632.39 338.00,632.38 338.01,632.37 338.01,632.36 338.02,632.35 338.02,632.34 338.03,632.32 338.04,632.32 338.04,632.30 338.05,632.29 338.05,632.29 338.06,632.28 338.06,632.27 338.07,632.26 338.07,632.25 338.08,632.23 338.09,632.22 338.09,632.21 338.10,632.20 338.11,632.18 338.11,632.17 338.12,632.15 338.12,632.14 338.13,632.13 338.14,632.12 338.14,632.10 338.15,632.09 338.16,632.07 338.16,632.06 338.17,632.05 338.17,632.04 338.18,632.02 338.19,632.01 338.19,631.99 338.20,631.98 338.21,631.96 338.21,631.95 338.22,631.93 338.22,631.92 338.23,631.90 338.24,631.88 338.24,631.87 338.25,631.85 338.26,631.83 338.26,631.82 338.27,631.80 338.27,631.79 338.28,631.77 338.29,631.75 338.29,631.73 338.30,631.72 338.31,631.70 338.31,631.68 338.32,631.66 338.32,631.65 338.33,631.62 338.34,631.61 338.34,631.59 338.35,631.57 338.36,631.55 338.36,631.53 338.37,631.51 338.37,631.49 338.38,631.47 338.39,631.45 338.39,631.43 338.40,631.41 338.41,631.38 338.41,631.37 338.42,631.34 338.42,631.32 338.43,631.30 338.44,631.28 338.44,631.25 338.45,631.23 338.46,631.20 338.46,631.19 338.47,631.16 338.47,631.14 338.48,631.11 338.49,631.09 338.49,631.06 338.50,631.04 338.51,631.01 338.51,630.99 338.52,630.96 338.52,630.93 338.53,630.90 338.54,630.88 338.54,630.85 338.55,630.82 338.55,630.82 338.56,630.79 338.56,630.76 338.57,630.73 338.57,630.71 338.58,630.67 338.59,630.64 338.59,630.61 338.60,630.59 338.61,630.54 338.61,630.52 338.62,630.48 338.62,630.46 338.63,630.41 338.64,630.39 338.64,630.35 338.65,630.32 338.66,630.27 338.66,630.24 338.67,630.20 338.67,630.17 338.68,630.13 338.69,630.10 338.69,630.05 338.70,630.02 338.71,629.97 338.71,629.94 338.72,629.89 338.72,629.86 338.73,629.80 338.74,629.77 338.74,629.72 338.75,629.69 338.76,629.63 338.76,629.59 338.77,629.54 338.77,629.50 338.78,629.44 338.79,629.40 338.79,629.35 338.80,629.31 338.81,629.24 338.81,629.20 338.82,629.14 338.82,629.10 338.83,629.03 338.84,628.98 338.84,628.92 338.85,628.88 338.86,628.80 338.86,628.75 338.87,628.69 338.87,628.64 338.88,628.56 338.89,628.51 338.89,628.44 338.90,628.38 338.91,628.30 338.91,628.24 338.92,628.17 338.92,628.11 338.93,628.02 338.94,627.96 338.94,627.88 338.95,627.81 338.96,627.72 338.96,627.65 338.97,627.56 338.97,627.50 338.98,627.39 338.99,627.32 338.99,627.23 339.00,627.16 339.01,627.04 339.01,626.97 339.02,626.86 339.02,626.78 339.03,626.66 339.04,626.58 339.04,626.47 339.05,626.38 339.05,626.37 339.06,626.25 339.06,626.16 339.07,626.04 339.07,625.95 339.08,625.80 339.09,625.70 339.09,625.57 339.10,625.47 339.11,625.31 339.11,625.20 339.12,625.06 339.12,624.95 339.13,624.77 339.14,624.66 339.14,624.50 339.15,624.38 339.16,624.18 339.16,624.06 339.17,623.88 339.17,623.75 339.18,623.54 339.19,623.40 339.19,623.20 339.20,623.06 339.21,622.82 339.21,622.67 339.22,622.45 339.22,622.29 339.23,622.03 339.24,621.86 339.24,621.62 339.25,621.44 339.26,621.15 339.26,620.96 339.27,620.69 339.27,620.49 339.28,620.16 339.29,619.95 339.29,619.65 339.30,619.42 339.31,619.05 339.31,618.82 339.32,618.48 339.32,618.22 339.33,617.81 339.34,617.54 339.34,617.15 339.35,616.87 339.36,616.40 339.36,616.09 339.37,615.65 339.37,615.33 339.38,614.79 339.39,614.44 339.39,613.94 339.40,613.56 339.41,612.95 339.41,612.55 339.42,611.97 339.42,611.54 339.43,610.83 339.44,610.36 339.44,609.69 339.45,609.19 339.46,608.37 339.46,607.83 339.47,607.04 339.47,606.46 339.48,605.49 339.49,604.86 339.49,603.94 339.50,603.26 339.51,602.12 339.51,601.38 339.52,600.29 339.52,599.48 339.53,598.13 339.54,597.24 339.54,595.95 339.55,594.99 339.55,594.79 339.56,593.37 339.56,592.32 339.57,590.77 339.57,589.62 339.58,587.68 339.59,586.41 339.59,584.55 339.60,583.16 339.61,580.82 339.61,579.29 339.62,577.05 339.62,575.37 339.63,572.56 339.64,570.71 339.64,568.01 339.65,565.99 339.66,562.62 339.66,560.41 339.67,557.18 339.67,554.79 339.68,550.79 339.69,548.19 339.69,544.42 339.70,541.63 339.71,537.03 339.71,534.07 339.72,529.81 339.72,526.71 339.73,521.66 339.74,518.47 339.74,513.96 339.75,510.74 339.76,505.61 339.76,502.45 339.77,498.11 339.77,495.09 339.78,490.44 339.79,487.68 339.79,484.02 339.80,481.57 339.81,477.96 339.81,475.91 339.82,473.33 339.82,471.69 339.83,469.43 339.84,468.23 339.84,466.85 339.85,466.06 339.86,465.13 339.86,464.76 339.87,464.51 339.87,464.52 339.88,464.86 339.89,465.28 339.89,466.15 339.90,466.97 339.91,468.63 339.91,469.89 339.92,471.94 339.92,473.61 339.93,476.62 339.94,478.71 339.94,481.88 339.95,484.30 339.96,488.43 339.96,491.15 339.97,495.08 339.97,497.97 339.98,502.68 339.99,505.66 339.99,509.85 340.00,512.83 340.01,517.54 340.01,520.44 340.02,524.42 340.02,527.19 340.03,531.49 340.04,534.08 340.04,537.58 340.05,539.98 340.05,540.45 340.06,543.65 340.06,545.84 340.07,548.76 340.07,550.75 340.08,553.75 340.09,555.52 340.09,557.86 340.10,559.44 340.11,561.81 340.11,563.20 340.12,565.02 340.12,566.23 340.13,568.04 340.14,569.08 340.14,570.44 340.15,571.33 340.16,572.64 340.16,573.38 340.17,574.33 340.17,574.94 340.18,575.81 340.19,576.29 340.19,576.87 340.20,577.23 340.21,577.70 340.21,577.93 340.22,578.18 340.22,578.30 340.23,578.39 340.24,578.39 340.24,578.31 340.25,578.20 340.26,577.92 340.26,577.69 340.27,577.28 340.27,576.93 340.28,576.27 340.29,575.79 340.29,575.03 340.30,574.43 340.31,573.35 340.31,572.60 340.32,571.46 340.32,570.58 340.33,569.03 340.34,567.99 340.34,566.41 340.35,565.21 340.36,563.13 340.36,561.75 340.37,559.68 340.37,558.11 340.38,555.44 340.39,553.66 340.39,551.04 340.40,549.07 340.41,545.74 340.41,543.55 340.42,540.34 340.42,537.95 340.43,533.96 340.44,531.36 340.44,527.60 340.45,524.84 340.46,520.30 340.46,517.40 340.47,513.28 340.47,510.30 340.48,505.52 340.49,502.54 340.49,498.41 340.50,495.52 340.51,491.01 340.51,488.30 340.52,484.68 340.52,482.24 340.53,478.60 340.54,476.52 340.54,473.88 340.55,472.18 340.55,471.86 340.56,469.82 340.56,468.57 340.57,467.11 340.57,466.26 340.58,465.26 340.59,464.84 340.59,464.53 340.60,464.50 340.61,464.78 340.61,465.15 340.62,465.95 340.62,466.72 340.63,468.29 340.64,469.49 340.64,471.46 340.65,473.07 340.66,476.01 340.66,478.06 340.67,481.21 340.67,483.63 340.68,487.81 340.69,490.58 340.69,494.64 340.70,497.64 340.71,502.60 340.71,505.77 340.72,510.25 340.72,513.47 340.73,518.62 340.74,521.82 340.74,526.24 340.75,529.35 340.76,534.21 340.76,537.17 340.77,541.20 340.77,544.00 340.78,548.32 340.79,550.91 340.79,554.42 340.80,556.82 340.81,560.52 340.81,562.72 340.82,565.68 340.82,567.71 340.83,570.80 340.84,572.64 340.84,575.11 340.85,576.80 340.86,579.37 340.86,580.89 340.87,582.94 340.87,584.34 340.88,586.47 340.89,587.74 340.89,589.44 340.90,590.60 340.91,592.37 340.91,593.42 340.92,594.84 340.92,595.81 340.93,597.29 340.94,598.17 340.94,599.36 340.95,600.17 340.96,601.41 340.96,602.16 340.97,603.16 340.97,603.84 340.98,604.89 340.99,605.52 340.99,606.37 341.00,606.96 341.01,607.85 341.01,608.39 341.02,609.12 341.02,609.62 341.03,610.38 341.04,610.85 341.04,611.47 341.05,611.90 341.05,611.99 341.06,612.57 341.06,612.97 341.07,613.51 341.07,613.88 341.08,614.46 341.09,614.80 341.09,615.28 341.10,615.60 341.11,616.11 341.11,616.41 341.12,616.82 341.12,617.11 341.13,617.55 341.14,617.82 341.14,618.18 341.15,618.44 341.16,618.83 341.16,619.07 341.17,619.39 341.17,619.61 341.18,619.96 341.19,620.17 341.19,620.46 341.20,620.66 341.21,620.97 341.21,621.15 341.22,621.41 341.22,621.59 341.23,621.87 341.24,622.04 341.24,622.27 341.25,622.43 341.26,622.68 341.26,622.83 341.27,623.03 341.27,623.18 341.28,623.40 341.29,623.54 341.29,623.73 341.30,623.86 341.31,624.06 341.31,624.19 341.32,624.36 341.32,624.48 341.33,624.66 341.34,624.78 341.34,624.93 341.35,625.04 341.36,625.21 341.36,625.31 341.37,625.45 341.37,625.55 341.38,625.71 341.39,625.80 341.39,625.93 341.40,626.02 341.41,626.16 341.41,626.25 341.42,626.37 341.42,626.45 341.43,626.58 341.44,626.66 341.44,626.77 341.45,626.85 341.46,626.97 341.46,627.04 341.47,627.14 341.47,627.21 341.48,627.33 341.49,627.39 341.49,627.49 341.50,627.55 341.51,627.66 341.51,627.72 341.52,627.81 341.52,627.87 341.53,627.96 341.54,628.02 341.54,628.10 341.55,628.16 341.55,628.17 341.56,628.25 341.56,628.30 341.57,628.37 341.57,628.43 341.58,628.51 341.59,628.56 341.59,628.63 341.60,628.68 341.61,628.76 341.61,628.80 341.62,628.87 341.62,628.91 341.63,628.99 341.64,629.03 341.64,629.09 341.65,629.13 341.66,629.20 341.66,629.24 341.67,629.30 341.67,629.34 341.68,629.40 341.69,629.44 341.69,629.50 341.70,629.53 341.71,629.59 341.71,629.63 341.72,629.68 341.72,629.72 341.73,629.77 341.74,629.81 341.74,629.85 341.75,629.89 341.76,629.94 341.76,629.97 341.77,630.02 341.77,630.05 341.78,630.10 341.79,630.13 341.79,630.17 341.80,630.20 341.81,630.25 341.81,630.27 341.82,630.31 341.82,630.34 341.83,630.39 341.84,630.41 341.84,630.45 341.85,630.48 341.86,630.52 341.86,630.55 341.87,630.58 341.87,630.61 341.88,630.65 341.89,630.67 341.89,630.70 341.90,630.73 341.91,630.77 341.91,630.79 341.92,630.82 341.92,630.84 341.93,630.88 341.94,630.90 341.94,630.93 341.95,630.95 341.96,630.99 341.96,631.01 341.97,631.04 341.97,631.06 341.98,631.09 341.99,631.11 341.99,631.14 342.00,631.16 342.01,631.19 342.01,631.21 342.02,631.23 342.02,631.25 342.03,631.28 342.04,631.30 342.04,631.32 342.05,631.34 342.05,631.34 342.06,631.37 342.06,631.38 342.07,631.41 342.07,631.42 342.08,631.45 342.09,631.47 342.09,631.49 342.10,631.51 342.11,631.53 342.11,631.55 342.12,631.57 342.12,631.58 342.13,631.61 342.14,631.62 342.14,631.64 342.15,631.66 342.16,631.68 342.16,631.70 342.17,631.72 342.17,631.73 342.18,631.75 342.19,631.77 342.19,631.79 342.20,631.80 342.21,631.82 342.21,631.83 342.22,631.85 342.22,631.86 342.23,631.88 342.24,631.90 342.24,631.91 342.25,631.93 342.26,631.95 342.26,631.96 342.27,631.98 342.27,631.99 342.28,632.01 342.29,632.02 342.29,632.03 342.30,632.04 342.31,632.06 342.31,632.07 342.32,632.09 342.32,632.10 342.33,632.12 342.34,632.13 342.34,632.14 342.35,632.15 342.36,632.17 342.36,632.18 342.37,632.19 342.37,632.20 342.38,632.22 342.39,632.23 342.39,632.24 342.40,632.25 342.41,632.27 342.41,632.28 342.42,632.29 342.42,632.30 342.43,632.32 342.44,632.32 342.44,632.34 342.45,632.35 342.46,632.36 342.46,632.37 342.47,632.38 342.47,632.39 342.48,632.40 342.49,632.41 342.49,632.42 342.50,632.43 342.51,632.45 342.51,632.45 342.52,632.47 342.52,632.47 342.53,632.49 342.54,632.49 342.54,632.51 342.55,632.51 342.55,632.51 342.56,632.53 342.56,632.53 342.57,632.54 342.57,632.55 342.58,632.56 342.59,632.57 342.59,632.58 342.60,632.59 342.61,632.60 342.61,632.61 342.62,632.62 342.62,632.62 342.63,632.63 342.64,632.64 342.64,632.65 342.65,632.66 342.66,632.67 342.66,632.67 342.67,632.68 342.67,632.69 342.68,632.70 342.69,632.71 342.69,632.72 342.70,632.72 342.71,632.73 342.72,632.75 342.72,632.75 342.73,632.76 342.74,632.78 342.75,632.78 342.76,632.79 342.77,632.81 342.77,632.81 342.78,632.82 342.79,632.84 342.80,632.84 342.81,632.85 342.82,632.86 342.83,632.88 342.84,632.89 342.86,632.90 342.87,632.92 342.88,632.93 342.89,632.94 342.91,632.95 342.92,632.96 342.93,632.98 342.94,632.99 342.96,633.00 342.97,633.01 342.98,633.02 342.99,633.03 343.01,633.04 343.02,633.06 343.03,633.07 343.04,633.08 343.05,633.08 343.06,633.09 343.07,633.10 343.08,633.11 343.09,633.12 343.11,633.13 343.12,633.14 343.13,633.15 343.14,633.15 343.16,633.16 343.17,633.17 343.18,633.18 343.19,633.19 343.21,633.20 343.22,633.21 343.23,633.22 343.24,633.22 343.26,633.23 343.27,633.24 343.28,633.25 343.29,633.26 343.31,633.26 343.32,633.27 343.33,633.28 343.34,633.29 343.36,633.30 343.37,633.30 343.38,633.31 343.39,633.32 343.41,633.32 343.42,633.33 343.43,633.34 343.46,633.35 343.48,633.36 343.51,633.38 343.53,633.39 343.55,633.40 344.05,633.60 344.55,633.73 345.05,633.82 345.55,633.88 346.05,633.93 346.55,633.97 347.05,634.00 347.55,634.03 348.05,634.05 348.55,634.06 349.05,634.07 349.55,634.08 350.05,634.09 350.55,634.10 351.05,634.11 351.55,634.11 352.05,634.12 352.55,634.12 353.05,634.13 353.55,634.13 354.05,634.13 354.55,634.14 355.05,634.14 355.55,634.14 356.05,634.14 356.55,634.14 357.05,634.14 357.55,634.15 358.05,634.15 358.55,634.15 359.05,634.15 359.55,634.15 360.05,634.15 360.55,634.15 361.05,634.15 361.55,634.15 362.05,634.15 362.55,634.14 363.05,634.14 363.55,634.14 364.05,634.14 364.55,634.14 365.05,634.14 365.55,634.14 366.05,634.13 366.55,634.13 367.05,634.13 367.55,634.12 368.05,634.12 368.55,634.11 369.05,634.11 369.55,634.10 370.05,634.09 370.55,634.09 371.05,634.08 371.55,634.07 372.05,634.05 372.55,634.04 373.05,634.02 373.55,633.99 374.05,633.96 374.55,633.92 375.05,633.88 375.55,633.81 376.05,633.73 376.55,633.61 377.05,633.43 377.15,633.38 377.18,633.37 377.20,633.36 377.23,633.35 377.25,633.33 377.28,633.32 377.30,633.31 377.33,633.29 377.35,633.28 377.38,633.26 377.40,633.25 377.43,633.23 377.45,633.22 377.48,633.20 377.50,633.18 377.53,633.17 377.55,633.15 377.55,633.15 377.58,633.13 377.60,633.11 377.60,633.11 377.63,633.09 377.63,633.09 377.65,633.08 377.65,633.07 377.68,633.06 377.68,633.05 377.70,633.04 377.70,633.03 377.73,633.01 377.73,633.01 377.75,632.99 377.75,632.99 377.78,632.97 377.78,632.97 377.80,632.95 377.80,632.95 377.83,632.92 377.83,632.92 377.85,632.90 377.85,632.90 377.88,632.87 377.88,632.87 377.88,632.87 377.90,632.85 377.90,632.85 377.91,632.84 377.93,632.82 377.93,632.82 377.94,632.81 377.95,632.80 377.95,632.79 377.96,632.79 377.98,632.77 377.98,632.77 377.99,632.76 378.00,632.74 378.00,632.74 378.01,632.73 378.03,632.71 378.03,632.71 378.04,632.70 378.05,632.68 378.05,632.68 378.05,632.68 378.06,632.67 378.08,632.64 378.08,632.64 378.08,632.64 378.10,632.61 378.10,632.61 378.11,632.60 378.13,632.58 378.13,632.58 378.13,632.57 378.15,632.54 378.15,632.54 378.16,632.53 378.18,632.51 378.18,632.50 378.19,632.50 378.20,632.47 378.20,632.47 378.21,632.46 378.23,632.43 378.23,632.43 378.24,632.42 378.25,632.39 378.25,632.39 378.26,632.38 378.28,632.35 378.28,632.34 378.29,632.33 378.30,632.30 378.30,632.30 378.31,632.29 378.33,632.26 378.33,632.26 378.33,632.24 378.34,632.24 378.35,632.21 378.35,632.21 378.36,632.20 378.36,632.19 378.38,632.16 378.38,632.16 378.38,632.15 378.39,632.15 378.40,632.11 378.40,632.11 378.41,632.10 378.41,632.09 378.43,632.06 378.43,632.06 378.44,632.04 378.44,632.04 378.45,632.00 378.45,632.00 378.46,631.99 378.46,631.99 378.48,631.95 378.48,631.94 378.49,631.93 378.49,631.93 378.50,631.89 378.50,631.88 378.51,631.87 378.51,631.87 378.53,631.82 378.53,631.82 378.54,631.81 378.54,631.80 378.55,631.77 378.55,631.76 378.55,631.76 378.56,631.74 378.56,631.74 378.58,631.69 378.58,631.69 378.58,631.67 378.59,631.67 378.60,631.62 378.60,631.62 378.61,631.60 378.61,631.60 378.63,631.55 378.63,631.55 378.63,631.53 378.64,631.53 378.65,631.47 378.65,631.47 378.66,631.45 378.66,631.45 378.68,631.39 378.68,631.39 378.69,631.37 378.69,631.37 378.70,631.31 378.70,631.30 378.71,631.28 378.71,631.28 378.73,631.22 378.73,631.22 378.74,631.19 378.74,631.19 378.75,631.13 378.75,631.12 378.76,631.10 378.76,631.10 378.78,631.03 378.78,631.03 378.79,631.00 378.79,631.00 378.80,630.93 378.80,630.92 378.81,630.90 378.81,630.89 378.83,630.82 378.83,630.82 378.83,630.79 378.84,630.79 378.85,630.71 378.85,630.70 378.86,630.68 378.86,630.67 378.88,630.59 378.88,630.58 378.88,630.55 378.89,630.55 378.90,630.46 378.90,630.46 378.91,630.43 378.91,630.42 378.93,630.33 378.93,630.33 378.94,630.29 378.94,630.29 378.95,630.19 378.95,630.18 378.96,630.15 378.96,630.14 378.98,630.04 378.98,630.04 378.99,630.00 378.99,629.99 379.00,629.88 379.00,629.88 379.01,629.84 379.01,629.83 379.03,629.72 379.03,629.71 379.04,629.67 379.04,629.66 379.05,629.56 379.05,629.54 379.05,629.53 379.06,629.49 379.06,629.48 379.08,629.35 379.08,629.34 379.08,629.29 379.09,629.29 379.10,629.15 379.10,629.14 379.11,629.09 379.11,629.08 379.13,628.93 379.13,628.92 379.13,628.87 379.14,628.86 379.15,628.70 379.15,628.69 379.16,628.63 379.16,628.62 379.18,628.45 379.18,628.44 379.19,628.38 379.19,628.37 379.20,628.19 379.20,628.18 379.21,628.11 379.21,628.10 379.23,627.90 379.23,627.89 379.24,627.82 379.24,627.80 379.25,627.59 379.25,627.58 379.26,627.50 379.26,627.49 379.28,627.26 379.28,627.24 379.29,627.16 379.29,627.15 379.30,626.90 379.30,626.88 379.31,626.79 379.31,626.77 379.33,626.50 379.33,626.49 379.33,626.39 379.34,626.37 379.35,626.08 379.35,626.06 379.36,625.95 379.36,625.93 379.38,625.61 379.38,625.59 379.38,625.47 379.39,625.45 379.40,625.09 379.40,625.07 379.41,624.94 379.41,624.92 379.43,624.53 379.43,624.51 379.44,624.36 379.44,624.34 379.45,623.91 379.45,623.88 379.46,623.72 379.46,623.70 379.48,623.22 379.48,623.19 379.49,623.01 379.49,622.98 379.50,622.45 379.50,622.42 379.51,622.22 379.51,622.19 379.53,621.59 379.53,621.56 379.54,621.34 379.54,621.30 379.55,620.75 379.55,620.63 379.55,620.59 379.56,620.34 379.56,620.30 379.58,619.55 379.58,619.50 379.58,619.22 379.59,619.17 379.60,618.32 379.60,618.26 379.61,617.94 379.61,617.89 379.63,616.91 379.63,616.85 379.63,616.49 379.64,616.42 379.65,615.30 379.65,615.23 379.66,614.81 379.66,614.74 379.68,613.44 379.68,613.36 379.69,612.87 379.69,612.79 379.70,611.28 379.70,611.19 379.71,610.61 379.71,610.51 379.73,608.75 379.73,608.64 379.74,607.96 379.74,607.85 379.75,605.76 379.75,605.63 379.76,604.83 379.76,604.69 379.78,602.21 379.78,602.06 379.79,601.10 379.79,600.94 379.80,597.97 379.80,597.79 379.81,596.64 379.81,596.44 379.83,592.88 379.83,592.65 379.83,591.27 379.84,591.03 379.85,586.73 379.85,586.46 379.86,584.79 379.86,584.50 379.88,579.32 379.88,578.99 379.88,576.99 379.89,576.65 379.90,570.46 379.90,570.07 379.91,567.70 379.91,567.29 379.93,560.06 379.93,559.61 379.94,556.88 379.94,556.42 379.95,548.29 379.95,547.80 379.96,544.83 379.96,544.33 379.98,535.86 379.98,535.36 379.99,532.43 379.99,531.94 380.00,524.16 380.00,523.74 380.01,521.29 380.01,520.91 380.03,515.28 380.03,515.01 380.04,513.59 380.04,513.38 380.05,511.40 380.05,511.21 380.05,511.17 380.06,511.09 380.06,511.11 380.08,512.79 380.08,512.96 380.08,514.15 380.09,514.38 380.10,519.09 380.10,519.41 380.11,521.42 380.11,521.77 380.13,528.02 380.13,528.40 380.13,530.69 380.14,531.08 380.15,537.47 380.15,537.83 380.16,539.98 380.16,540.34 380.18,545.95 380.18,546.25 380.19,548.03 380.19,548.31 380.20,552.69 380.20,552.92 380.21,554.22 380.21,554.43 380.23,557.42 380.23,557.56 380.24,558.37 380.24,558.49 380.25,560.09 380.25,560.15 380.26,560.47 380.26,560.51 380.28,560.72 380.28,560.71 380.29,560.54 380.29,560.50 380.30,559.35 380.30,559.25 380.31,558.60 380.31,558.48 380.33,555.94 380.33,555.76 380.33,554.62 380.34,554.42 380.35,550.47 380.35,550.21 380.36,548.57 380.36,548.29 380.38,542.96 380.38,542.62 380.38,540.52 380.39,540.16 380.40,533.64 380.40,533.23 380.41,530.77 380.41,530.36 380.43,523.15 380.43,522.72 380.44,520.16 380.44,519.74 380.45,512.78 380.45,512.39 380.46,510.14 380.46,509.78 380.48,504.39 380.48,504.13 380.49,502.66 380.49,502.44 380.50,499.80 380.50,499.71 380.51,499.34 380.51,499.30 380.53,499.75 380.53,499.84 380.54,500.47 380.54,500.59 380.55,502.81 380.55,503.37 380.55,503.57 380.56,504.79 380.56,505.00 380.58,508.69 380.58,508.90 380.58,510.18 380.59,510.39 380.60,513.61 380.60,513.78 380.61,514.71 380.61,514.85 380.63,516.68 380.63,516.75 380.63,517.08 380.64,517.12 380.65,517.12 380.65,517.08 380.66,516.75 380.66,516.68 380.68,514.85 380.68,514.71 380.69,513.78 380.69,513.61 380.70,510.39 380.70,510.18 380.71,508.90 380.71,508.69 380.73,505.00 380.73,504.79 380.74,503.57 380.74,503.37 380.75,500.59 380.75,500.47 380.76,499.84 380.76,499.75 380.78,499.30 380.78,499.34 380.79,499.71 380.79,499.80 380.80,502.44 380.80,502.66 380.81,504.13 380.81,504.39 380.83,509.78 380.83,510.14 380.83,512.39 380.84,512.78 380.85,519.73 380.85,520.16 380.86,522.72 380.86,523.15 380.88,530.36 380.88,530.77 380.88,533.23 380.89,533.64 380.90,540.15 380.90,540.52 380.91,542.62 380.91,542.96 380.93,548.29 380.93,548.57 380.94,550.21 380.94,550.47 380.95,554.42 380.95,554.62 380.96,555.76 380.96,555.94 380.98,558.48 380.98,558.60 380.99,559.25 380.99,559.35 381.00,560.50 381.00,560.54 381.01,560.70 381.01,560.72 381.03,560.51 381.03,560.47 381.04,560.15 381.04,560.08 381.05,558.84 381.05,558.49 381.05,558.37 381.06,557.56 381.06,557.42 381.08,554.43 381.08,554.22 381.08,552.92 381.09,552.69 381.10,548.31 381.10,548.03 381.11,546.25 381.11,545.95 381.13,540.33 381.13,539.98 381.13,537.83 381.14,537.47 381.15,531.07 381.15,530.69 381.16,528.40 381.16,528.02 381.18,521.77 381.18,521.42 381.19,519.41 381.19,519.08 381.20,514.38 381.20,514.15 381.21,512.96 381.21,512.79 381.23,511.11 381.23,511.09 381.24,511.17 381.24,511.21 381.25,513.38 381.25,513.59 381.26,515.01 381.26,515.28 381.28,520.90 381.28,521.29 381.29,523.74 381.29,524.16 381.30,531.94 381.30,532.42 381.31,535.36 381.31,535.85 381.33,544.33 381.33,544.83 381.33,547.80 381.34,548.29 381.35,556.42 381.35,556.88 381.36,559.61 381.36,560.05 381.38,567.29 381.38,567.70 381.38,570.07 381.39,570.45 381.40,576.65 381.40,576.99 381.41,578.99 381.41,579.32 381.43,584.50 381.43,584.79 381.44,586.45 381.44,586.73 381.45,591.03 381.45,591.27 381.46,592.65 381.46,592.87 381.48,596.44 381.48,596.64 381.49,597.79 381.49,597.97 381.50,600.94 381.50,601.10 381.51,602.06 381.51,602.21 381.53,604.69 381.53,604.83 381.54,605.63 381.54,605.76 381.55,607.49 381.55,607.85 381.55,607.96 381.56,608.64 381.56,608.75 381.58,610.51 381.58,610.61 381.58,611.19 381.59,611.28 381.60,612.79 381.60,612.87 381.61,613.36 381.61,613.44 381.63,614.74 381.63,614.81 381.63,615.23 381.64,615.30 381.65,616.42 381.65,616.48 381.66,616.85 381.66,616.91 381.68,617.89 381.68,617.94 381.69,618.26 381.69,618.32 381.70,619.17 381.70,619.22 381.71,619.50 381.71,619.55 381.73,620.30 381.73,620.34 381.74,620.59 381.74,620.63 381.75,621.30 381.75,621.33 381.76,621.56 381.76,621.59 381.78,622.19 381.78,622.22 381.79,622.42 381.79,622.45 381.80,622.98 381.80,623.01 381.81,623.19 381.81,623.22 381.83,623.69 381.83,623.72 381.83,623.88 381.84,623.91 381.85,624.34 381.85,624.36 381.86,624.50 381.86,624.53 381.88,624.92 381.88,624.94 381.88,625.07 381.89,625.09 381.90,625.45 381.90,625.47 381.91,625.59 381.91,625.61 381.93,625.93 381.93,625.95 381.94,626.06 381.94,626.07 381.95,626.37 381.95,626.38 381.96,626.48 381.96,626.50 381.98,626.77 381.98,626.79 381.99,626.88 381.99,626.89 382.00,627.14 382.00,627.16 382.01,627.24 382.01,627.26 382.03,627.49 382.03,627.50 382.04,627.58 382.04,627.59 382.05,627.77 382.05,627.80 382.05,627.81 382.06,627.89 382.06,627.90 382.08,628.10 382.08,628.11 382.08,628.17 382.09,628.18 382.10,628.37 382.10,628.38 382.11,628.44 382.11,628.45 382.13,628.62 382.13,628.63 382.13,628.69 382.14,628.70 382.15,628.86 382.15,628.87 382.16,628.92 382.16,628.93 382.18,629.08 382.18,629.09 382.19,629.14 382.19,629.14 382.20,629.28 382.20,629.29 382.21,629.34 382.21,629.35 382.23,629.48 382.23,629.48 382.24,629.53 382.24,629.54 382.25,629.66 382.25,629.67 382.26,629.71 382.26,629.71 382.28,629.83 382.28,629.84 382.29,629.87 382.29,629.88 382.30,629.99 382.30,630.00 382.31,630.03 382.31,630.04 382.33,630.14 382.33,630.15 382.33,630.18 382.34,630.19 382.35,630.28 382.35,630.29 382.36,630.32 382.36,630.33 382.38,630.42 382.38,630.42 382.38,630.45 382.39,630.46 382.40,630.55 382.40,630.55 382.41,630.58 382.41,630.59 382.43,630.67 382.43,630.67 382.44,630.70 382.44,630.70 382.45,630.78 382.45,630.79 382.46,630.81 382.46,630.82 382.48,630.89 382.48,630.90 382.49,630.92 382.49,630.92 382.50,630.99 382.50,631.00 382.51,631.02 382.51,631.03 382.53,631.09 382.53,631.10 382.54,631.12 382.54,631.12 382.55,631.18 382.55,631.19 382.55,631.19 382.56,631.21 382.56,631.22 382.58,631.28 382.58,631.28 382.58,631.30 382.59,631.30 382.60,631.36 382.60,631.37 382.61,631.39 382.61,631.39 382.63,631.44 382.63,631.45 382.63,631.47 382.64,631.47 382.65,631.52 382.65,631.52 382.66,631.54 382.66,631.55 382.68,631.60 382.68,631.60 382.69,631.62 382.69,631.62 382.70,631.67 382.70,631.67 382.71,631.69 382.71,631.69 382.73,631.74 382.73,631.74 382.74,631.75 382.74,631.76 382.75,631.80 382.75,631.80 382.76,631.82 382.76,631.82 382.78,631.86 382.78,631.87 382.79,631.88 382.79,631.88 382.80,631.92 382.80,631.93 382.81,631.94 382.81,631.94 382.83,631.98 382.83,631.98 382.83,632.00 382.84,632.00 382.85,632.04 382.85,632.04 382.86,632.05 382.86,632.05 382.88,632.09 382.88,632.09 382.88,632.10 382.89,632.11 382.90,632.14 382.90,632.14 382.91,632.15 382.91,632.16 382.93,632.19 382.93,632.19 382.94,632.20 382.94,632.21 382.95,632.24 382.96,632.25 382.96,632.25 382.98,632.28 382.99,632.30 382.99,632.30 383.00,632.33 383.01,632.34 383.01,632.34 383.03,632.37 383.04,632.38 383.04,632.38 383.05,632.41 383.05,632.41 383.06,632.42 383.06,632.42 383.08,632.45 383.08,632.46 383.09,632.46 383.10,632.49 383.11,632.50 383.11,632.50 383.13,632.53 383.13,632.54 383.14,632.54 383.15,632.56 383.16,632.57 383.16,632.57 383.18,632.60 383.19,632.61 383.19,632.61 383.20,632.63 383.21,632.64 383.21,632.64 383.23,632.66 383.24,632.67 383.24,632.67 383.25,632.69 383.26,632.70 383.26,632.70 383.28,632.72 383.29,632.73 383.29,632.73 383.30,632.75 383.31,632.76 383.31,632.76 383.33,632.78 383.33,632.79 383.34,632.79 383.35,632.81 383.36,632.82 383.36,632.82 383.38,632.84 383.38,632.84 383.39,632.84 383.41,632.87 383.41,632.87 383.44,632.89 383.44,632.89 383.46,632.92 383.46,632.92 383.49,632.94 383.49,632.94 383.51,632.96 383.51,632.96 383.54,632.99 383.54,632.99 383.55,633.00 383.56,633.01 383.56,633.01 383.58,633.03 383.59,633.03 383.61,633.05 383.61,633.05 383.63,633.07 383.64,633.07 383.66,633.09 383.66,633.09 383.69,633.11 383.71,633.13 383.74,633.14 383.76,633.16 383.79,633.18 383.81,633.19 383.84,633.21 383.86,633.23 383.89,633.24 383.91,633.26 383.94,633.27 383.96,633.28 383.99,633.30 384.01,633.31 384.04,633.33 384.05,633.33 384.06,633.34 384.09,633.35 384.11,633.36 384.55,633.54 385.05,633.68 385.55,633.77 386.05,633.84 386.55,633.89 387.05,633.93 387.55,633.97 388.05,633.99 388.55,634.01 389.05,634.03 389.55,634.04 390.05,634.05 390.55,634.06 391.05,634.06 391.55,634.07 392.05,634.07 392.55,634.07 393.05,634.08 393.55,634.08 394.05,634.08 394.55,634.08 395.05,634.08 395.55,634.07 396.05,634.07 396.55,634.06 397.05,634.06 397.55,634.05 398.05,634.04 398.55,634.03 399.05,634.02 399.55,634.00 400.05,633.98 400.55,633.95 401.05,633.92 401.55,633.87 402.05,633.81 402.55,633.73 403.05,633.61 403.42,633.48 403.44,633.47 403.47,633.46 403.49,633.45 403.52,633.44 403.54,633.43 403.55,633.43 403.57,633.42 403.59,633.41 403.62,633.39 403.64,633.38 403.67,633.37 403.69,633.35 403.72,633.34 403.74,633.33 403.77,633.31 403.79,633.30 403.82,633.28 403.84,633.26 403.87,633.25 403.89,633.23 403.92,633.21 403.94,633.20 403.97,633.18 403.99,633.16 404.02,633.14 404.04,633.12 404.05,633.11 404.07,633.10 404.09,633.08 404.12,633.05 404.14,633.03 404.17,633.01 404.19,632.98 404.22,632.96 404.24,632.93 404.27,632.90 404.29,632.87 404.32,632.84 404.34,632.81 404.37,632.78 404.39,632.75 404.42,632.72 404.44,632.68 404.47,632.64 404.49,632.61 404.52,632.57 404.54,632.52 404.55,632.51 404.57,632.48 404.59,632.44 404.62,632.39 404.64,632.34 404.67,632.29 404.69,632.23 404.72,632.18 404.74,632.12 404.77,632.06 404.79,631.99 404.82,631.93 404.84,631.86 404.87,631.78 404.89,631.70 404.92,631.62 404.94,631.53 404.97,631.44 404.99,631.35 405.02,631.24 405.04,631.14 405.05,631.09 405.07,631.02 405.09,630.90 405.12,630.77 405.14,630.63 405.17,630.49 405.19,630.33 405.22,630.17 405.24,629.99 405.27,629.80 405.29,629.60 405.32,629.38 405.34,629.15 405.37,628.90 405.39,628.63 405.42,628.33 405.44,628.02 405.47,627.67 405.49,627.29 405.52,626.89 405.54,626.44 405.55,626.27 405.57,625.95 405.59,625.41 405.62,624.81 405.64,624.16 405.67,623.43 405.69,622.62 405.72,621.71 405.74,620.69 405.77,619.54 405.79,618.25 405.82,616.77 405.84,615.09 405.87,613.15 405.89,610.91 405.92,608.31 405.94,605.27 405.97,601.70 405.99,597.46 406.02,592.40 406.04,586.32 406.05,583.84 406.07,578.98 406.09,570.06 406.12,559.22 406.14,546.04 406.17,530.18 406.19,511.47 406.22,490.26 406.24,467.85 406.27,446.97 406.29,431.64 406.32,425.80 406.34,431.21 406.37,446.24 406.39,466.98 406.42,489.39 406.44,510.68 406.47,529.49 406.49,545.45 406.52,558.72 406.54,569.64 406.55,573.07 406.57,578.61 406.59,586.00 406.62,592.12 406.64,597.21 406.67,601.47 406.69,605.07 406.72,608.12 406.74,610.73 406.77,612.98 406.79,614.92 406.82,616.60 406.84,618.08 406.87,619.38 406.89,620.53 406.92,621.54 406.94,622.45 406.97,623.26 406.99,623.99 407.02,624.64 407.04,625.23 407.05,625.43 407.07,625.77 407.09,626.25 407.12,626.70 407.14,627.10 407.17,627.47 407.19,627.81 407.22,628.12 407.24,628.41 407.27,628.68 407.29,628.92 407.32,629.15 407.34,629.36 407.37,629.56 407.39,629.74 407.42,629.91 407.44,630.07 407.47,630.22 407.49,630.36 407.52,630.49 407.54,630.61 407.55,630.65 407.57,630.73 407.59,630.83 407.62,630.93 407.64,631.03 407.67,631.12 407.69,631.20 407.72,631.28 407.74,631.36 407.77,631.43 407.79,631.49 407.82,631.56 407.84,631.62 407.87,631.67 407.89,631.73 407.92,631.78 407.94,631.82 407.97,631.87 407.99,631.91 408.02,631.95 408.04,631.99 408.05,632.00 408.07,632.02 408.09,632.06 408.12,632.09 408.14,632.12 408.17,632.15 408.19,632.17 408.22,632.20 408.24,632.22 408.27,632.24 408.29,632.26 408.32,632.28 408.34,632.30 408.37,632.32 408.39,632.33 408.42,632.35 408.44,632.36 408.47,632.37 408.48,632.38 408.49,632.38 408.50,632.39 408.52,632.39 408.52,632.39 408.54,632.40 408.54,632.40 408.55,632.40 408.56,632.41 408.57,632.41 408.58,632.41 408.59,632.41 408.60,632.42 408.62,632.42 408.62,632.42 408.64,632.42 408.64,632.42 408.66,632.43 408.67,632.43 408.68,632.43 408.69,632.43 408.70,632.43 408.72,632.43 408.72,632.43 408.74,632.43 408.74,632.43 408.76,632.43 408.77,632.43 408.78,632.43 408.79,632.43 408.80,632.43 408.82,632.43 408.82,632.43 408.84,632.43 408.84,632.43 408.86,632.42 408.87,632.42 408.88,632.42 408.89,632.42 408.90,632.41 408.92,632.41 408.92,632.41 408.94,632.40 408.94,632.40 408.96,632.40 408.97,632.40 408.98,632.39 408.99,632.39 409.00,632.38 409.02,632.38 409.02,632.38 409.04,632.37 409.04,632.37 409.05,632.36 409.06,632.36 409.07,632.35 409.08,632.35 409.09,632.34 409.10,632.34 409.12,632.33 409.12,632.33 409.14,632.31 409.14,632.31 409.16,632.30 409.17,632.30 409.18,632.29 409.19,632.28 409.20,632.27 409.22,632.26 409.24,632.24 409.26,632.23 409.28,632.21 409.30,632.19 409.32,632.17 409.34,632.15 409.36,632.13 409.38,632.11 409.40,632.09 409.42,632.06 409.44,632.04 409.46,632.01 409.48,631.99 409.50,631.96 409.52,631.93 409.54,631.90 409.55,631.89 409.56,631.87 409.58,631.84 409.60,631.80 409.62,631.77 409.64,631.73 409.66,631.69 409.68,631.65 409.70,631.61 409.72,631.57 409.74,631.52 409.76,631.47 409.78,631.42 409.80,631.37 409.82,631.32 409.84,631.26 409.86,631.20 409.88,631.14 409.90,631.08 409.92,631.01 409.94,630.94 409.96,630.87 409.98,630.79 410.00,630.71 410.02,630.63 410.04,630.54 410.05,630.50 410.06,630.45 410.08,630.35 410.10,630.25 410.12,630.14 410.14,630.03 410.16,629.91 410.18,629.79 410.20,629.66 410.22,629.52 410.24,629.37 410.26,629.21 410.28,629.05 410.30,628.87 410.32,628.69 410.34,628.49 410.36,628.28 410.38,628.06 410.40,627.82 410.42,627.56 410.44,627.29 410.46,626.99 410.48,626.68 410.50,626.34 410.52,625.97 410.54,625.57 410.55,625.36 410.56,625.14 410.58,624.67 410.60,624.16 410.62,623.61 410.64,622.99 410.66,622.32 410.68,621.58 410.70,620.76 410.72,619.86 410.74,618.84 410.76,617.71 410.78,616.43 410.80,614.99 410.82,613.35 410.84,611.48 410.86,609.33 410.88,606.84 410.90,603.95 410.92,600.56 410.94,596.57 410.96,591.82 410.98,586.15 411.00,579.32 411.02,571.06 411.04,561.04 411.05,555.26 411.06,548.91 411.08,534.33 411.10,517.18 411.12,497.77 411.14,477.29 411.16,458.22 411.18,444.18 411.20,438.70 411.22,443.28 411.24,456.42 411.26,474.56 411.28,494.09 411.30,512.52 411.32,528.64 411.34,542.13 411.36,553.12 411.38,561.91 411.40,568.84 411.42,574.22 411.44,578.31 411.46,581.31 411.48,583.36 411.50,584.58 411.52,585.02 411.54,584.72 411.55,584.29 411.56,583.68 411.58,581.87 411.60,579.24 411.62,575.68 411.64,571.06 411.66,565.18 411.68,557.79 411.70,548.58 411.72,537.13 411.74,522.96 411.76,505.55 411.78,484.42 411.80,459.36 411.82,430.86 411.84,400.75 411.86,372.79 411.88,352.45 411.90,345.10 411.92,353.04 411.94,373.97 411.96,402.55 411.98,433.28 412.00,462.42 412.02,488.16 412.04,510.00 412.05,519.52 412.06,528.17 412.08,543.14 412.10,555.46 412.12,565.63 412.14,574.06 412.16,581.09 412.18,586.99 412.20,591.98 412.22,596.23 412.24,599.87 412.26,603.01 412.28,605.73 412.30,608.11 412.32,610.19 412.34,612.03 412.36,613.66 412.38,615.11 412.40,616.41 412.42,617.57 412.44,618.61 412.46,619.56 412.48,620.42 412.50,621.20 412.52,621.91 412.54,622.56 412.55,622.86 412.56,623.15 412.58,623.70 412.60,624.20 412.62,624.67 412.64,625.10 412.66,625.50 412.68,625.87 412.70,626.22 412.72,626.54 412.74,626.84 412.76,627.12 412.78,627.38 412.80,627.62 412.82,627.86 412.84,628.07 412.86,628.28 412.88,628.47 412.90,628.65 412.92,628.82 412.94,628.98 412.96,629.13 412.98,629.28 413.00,629.41 413.02,629.54 413.04,629.67 413.05,629.73 413.06,629.78 413.08,629.89 413.10,630.00 413.12,630.10 413.14,630.19 413.16,630.28 413.18,630.37 413.20,630.45 413.22,630.53 413.24,630.61 413.26,630.68 413.28,630.75 413.30,630.81 413.32,630.87 413.34,630.93 413.36,630.99 413.38,631.04 413.40,631.09 413.42,631.14 413.44,631.19 413.46,631.23 413.48,631.28 413.50,631.32 413.52,631.36 413.54,631.39 413.55,631.41 413.56,631.43 413.58,631.46 413.60,631.49 413.62,631.52 413.64,631.55 413.66,631.58 413.68,631.61 413.70,631.63 413.72,631.66 413.74,631.68 413.76,631.70 413.78,631.72 413.80,631.74 413.82,631.75 413.84,631.77 413.86,631.79 413.88,631.80 413.90,631.81 413.92,631.82 413.94,631.84 413.96,631.85 413.98,631.85 414.00,631.86 414.02,631.87 414.04,631.88 414.05,631.88 414.06,631.88 414.08,631.89 414.10,631.89 414.12,631.89 414.14,631.89 414.16,631.89 414.18,631.89 414.20,631.89 414.22,631.89 414.24,631.89 414.26,631.88 414.28,631.88 414.30,631.87 414.32,631.86 414.34,631.85 414.36,631.85 414.38,631.84 414.40,631.82 414.42,631.81 414.44,631.80 414.46,631.78 414.48,631.77 414.50,631.75 414.52,631.74 414.54,631.72 414.55,631.71 414.56,631.70 414.58,631.68 414.60,631.65 414.62,631.63 414.64,631.60 414.66,631.58 414.68,631.55 414.70,631.52 414.72,631.49 414.74,631.46 414.76,631.42 414.78,631.39 414.80,631.35 414.82,631.31 414.84,631.27 414.86,631.22 414.88,631.18 414.90,631.13 414.92,631.08 414.94,631.03 414.96,630.97 414.98,630.91 415.00,630.85 415.02,630.79 415.04,630.72 415.05,630.69 415.06,630.65 415.08,630.58 415.10,630.50 415.12,630.42 415.14,630.33 415.16,630.24 415.18,630.15 415.20,630.05 415.22,629.95 415.24,629.84 415.26,629.72 415.28,629.60 415.30,629.47 415.32,629.34 415.34,629.19 415.36,629.04 415.38,628.88 415.40,628.71 415.42,628.53 415.44,628.34 415.46,628.14 415.48,627.92 415.50,627.70 415.52,627.45 415.54,627.19 415.55,627.05 415.56,626.91 415.58,626.61 415.60,626.29 415.62,625.95 415.64,625.58 415.66,625.18 415.68,624.75 415.70,624.29 415.72,623.79 415.74,623.24 415.76,622.65 415.78,622.00 415.80,621.29 415.82,620.51 415.84,619.66 415.86,618.71 415.88,617.67 415.90,616.51 415.92,615.22 415.94,613.77 415.96,612.14 415.98,610.31 416.00,608.22 416.02,605.85 416.04,603.13 416.05,601.62 416.06,599.99 416.08,596.35 416.10,592.11 416.12,587.12 416.14,581.22 416.16,574.19 416.18,565.77 416.20,555.61 416.22,543.29 416.24,528.32 416.26,510.15 416.28,488.32 416.30,462.58 416.32,433.44 416.34,402.72 416.36,374.15 416.38,353.22 416.40,345.29 416.42,352.64 416.44,372.99 416.46,400.96 416.48,431.07 416.50,459.58 416.52,484.65 416.54,505.79 416.55,514.94 416.56,523.21 416.58,537.39 416.60,548.85 416.62,558.08 416.64,565.48 416.66,571.38 416.68,576.02 416.70,579.60 416.72,582.26 416.74,584.09 416.76,585.16 416.78,585.50 416.80,585.10 416.82,583.94 416.84,581.95 416.86,579.02 416.88,575.01 416.90,569.73 416.92,562.92 416.94,554.28 416.96,543.48 416.98,530.21 417.00,514.34 417.02,496.20 417.04,476.98 417.05,467.68 417.06,459.12 417.08,446.20 417.10,441.69 417.12,447.10 417.14,460.94 417.16,479.72 417.18,499.89 417.20,519.02 417.22,535.92 417.24,550.28 417.26,562.23 417.28,572.11 417.30,580.25 417.32,586.98 417.34,592.57 417.36,597.25 417.38,601.19 417.40,604.53 417.42,607.38 417.44,609.83 417.46,611.95 417.48,613.80 417.50,615.42 417.52,616.84 417.54,618.11 417.55,618.68 417.56,619.23 417.58,620.23 417.60,621.13 417.62,621.94 417.64,622.67 417.66,623.34 417.68,623.94 417.70,624.49 417.72,625.00 417.74,625.46 417.76,625.89 417.78,626.29 417.80,626.65 417.82,626.99 417.84,627.31 417.86,627.60 417.88,627.87 417.90,628.13 417.92,628.37 417.94,628.59 417.96,628.80 417.98,629.00 418.00,629.19 418.02,629.36 418.04,629.53 418.05,629.61 418.06,629.69 418.08,629.83 418.10,629.98 418.12,630.11 418.14,630.24 418.16,630.36 418.18,630.47 418.20,630.58 418.22,630.68 418.24,630.78 418.26,630.88 418.28,630.97 418.30,631.06 418.32,631.14 418.34,631.22 418.36,631.30 418.38,631.37 418.40,631.44 418.42,631.51 418.44,631.57 418.46,631.63 418.48,631.69 418.50,631.75 418.52,631.81 418.54,631.86 418.55,631.89 418.56,631.91 418.58,631.96 418.60,632.01 418.62,632.05 418.64,632.10 418.66,632.14 418.68,632.18 418.70,632.23 418.72,632.26 418.74,632.30 418.76,632.34 418.78,632.37 418.80,632.41 418.82,632.44 418.84,632.48 418.86,632.51 418.88,632.54 418.90,632.57 418.92,632.60 418.94,632.62 418.96,632.65 418.98,632.68 419.00,632.70 419.02,632.73 419.04,632.75 419.05,632.76 419.06,632.78 419.08,632.80 419.10,632.82 419.12,632.84 419.14,632.86 419.16,632.89 419.18,632.91 419.20,632.93 419.22,632.94 419.24,632.96 419.26,632.98 419.28,633.00 419.30,633.02 419.32,633.03 419.34,633.05 419.36,633.07 419.38,633.08 419.40,633.10 419.42,633.11 419.44,633.13 419.46,633.14 419.48,633.16 419.50,633.17 419.52,633.19 419.54,633.20 419.55,633.21 419.56,633.21 419.58,633.22 419.60,633.24 419.62,633.25 419.64,633.26 419.66,633.27 419.68,633.28 419.70,633.30 419.72,633.31 419.74,633.32 419.76,633.33 419.78,633.34 419.80,633.35 420.05,633.46 420.55,633.62 421.05,633.74 421.55,633.82 422.05,633.87 422.55,633.92 423.05,633.96 423.55,633.99 424.05,634.01 424.55,634.03 425.05,634.05 425.55,634.06 426.05,634.07 426.55,634.08 427.05,634.09 427.55,634.10 428.05,634.11 428.55,634.11 429.05,634.12 429.55,634.12 430.05,634.13 430.55,634.13 431.05,634.14 431.55,634.14 432.05,634.14 432.55,634.15 433.05,634.15 433.55,634.15 434.05,634.15 434.55,634.15 435.05,634.16 435.55,634.16 436.05,634.16 436.55,634.16 437.05,634.16 437.55,634.16 438.05,634.17 438.55,634.17 439.05,634.17 439.55,634.17 440.05,634.17 440.55,634.17 441.05,634.17 441.55,634.17 442.05,634.17 442.55,634.17 443.05,634.18 443.55,634.18 444.05,634.18 444.55,634.18 445.05,634.18 445.55,634.18 446.05,634.18 446.55,634.18 447.05,634.18 447.55,634.18 448.05,634.18 448.55,634.18 449.05,634.18 449.55,634.18 450.05,634.18 450.55,634.18 451.05,634.18 451.55,634.18 452.05,634.18 452.55,634.18 453.05,634.19 453.55,634.19 454.05,634.19 454.55,634.19 455.05,634.19 455.55,634.19 456.05,634.19 456.55,634.19 457.05,634.19 457.55,634.19 458.05,634.19 458.55,634.19 459.05,634.19 459.55,634.19 460.05,634.19 460.55,634.19 461.05,634.19 461.55,634.19 462.05,634.19 462.55,634.19 463.05,634.19 463.55,634.19 464.05,634.19 464.55,634.19 465.05,634.19 465.55,634.19 466.05,634.19 466.55,634.19 467.05,634.19 467.55,634.19 468.05,634.19 468.55,634.19 469.05,634.19 469.55,634.19 470.05,634.19 470.55,634.19 471.05,634.19 471.55,634.19 472.05,634.19 472.55,634.19 473.05,634.19 473.55,634.19 474.05,634.19 474.55,634.19 475.05,634.19 475.55,634.19 476.05,634.19 476.55,634.19 477.05,634.19 477.55,634.19 478.05,634.19 478.55,634.19 479.05,634.19 479.55,634.19 480.05,634.19 480.55,634.19 481.05,634.19 481.55,634.19 482.05,634.19 482.55,634.19 483.05,634.19 483.55,634.19 484.05,634.19 484.55,634.19 485.05,634.19 485.55,634.19 486.05,634.19 486.55,634.19 487.05,634.19 487.55,634.19 488.05,634.19 488.55,634.19 489.05,634.19 489.55,634.19 490.05,634.19 490.55,634.19 491.05,634.19 491.55,634.19 492.05,634.19 492.55,634.19 493.05,634.19 493.55,634.19 494.05,634.19 494.55,634.19 495.05,634.19 495.55,634.19 496.05,634.19 496.55,634.19 497.05,634.19 497.55,634.19 498.05,634.19 498.55,634.20 499.05,634.20 499.55,634.20 500.05,634.20 500.55,634.20 501.05,634.20 501.55,634.20 502.05,634.20 502.55,634.20 503.05,634.20 503.55,634.20 504.05,634.20 504.55,634.20 505.05,634.20 505.55,634.20 506.05,634.20 506.55,634.20 507.05,634.20 507.55,634.20 508.05,634.20 508.55,634.20 509.05,634.20 509.55,634.20 510.05,634.20 510.55,634.20 511.05,634.20 511.55,634.20 512.05,634.20 512.55,634.20 513.05,634.20 513.55,634.20 514.05,634.20 514.55,634.20 515.05,634.20 515.55,634.20 516.05,634.20 516.55,634.20 517.05,634.20 517.55,634.20 518.05,634.20 518.55,634.20 519.05,634.20 519.55,634.20 520.05,634.20 520.55,634.20 521.05,634.20 521.55,634.20 522.05,634.20 522.55,634.20 523.05,634.20 523.55,634.20 524.05,634.20 524.55,634.20 525.05,634.20 525.55,634.20 526.05,634.20 526.55,634.20 527.05,634.20 527.55,634.20 528.05,634.20 528.55,634.20 529.05,634.20 529.55,634.20 530.05,634.20 530.55,634.20 531.05,634.20 531.55,634.20 532.05,634.20 532.55,634.20 533.05,634.20 533.55,634.20 534.05,634.20 534.55,634.20 535.05,634.20 535.55,634.20 536.05,634.20 536.55,634.20 537.05,634.20 537.55,634.20 538.05,634.20 538.55,634.20 539.05,634.20 539.55,634.20 540.05,634.20 540.55,634.20 541.05,634.20 541.55,634.20 542.05,634.20 542.55,634.20 543.05,634.20 543.55,634.20 544.05,634.20 544.55,634.20 545.05,634.20 545.55,634.20 546.05,634.20 546.55,634.20 547.05,634.20 547.55,634.20 548.05,634.20 548.55,634.20 549.05,634.20 549.55,634.20 550.05,634.20 550.55,634.20 551.05,634.20 551.55,634.20 552.05,634.20 552.55,634.20 553.05,634.19 553.55,634.19 554.05,634.19 554.55,634.19 555.05,634.19 555.55,634.19 556.05,634.19 556.55,634.19 557.05,634.19 557.55,634.19 558.05,634.19 558.55,634.19 559.05,634.19 559.55,634.19 560.05,634.19 560.55,634.19 561.05,634.19 561.55,634.19 562.05,634.19 562.55,634.19 563.05,634.19 563.55,634.19 564.05,634.19 564.55,634.19 565.05,634.19 565.55,634.19 566.05,634.19 566.55,634.19 567.05,634.19 567.55,634.19 568.05,634.19 568.55,634.19 569.05,634.19 569.55,634.19 570.05,634.19 570.55,634.19 571.05,634.19 571.55,634.19 572.05,634.19 572.55,634.18 573.05,634.18 573.55,634.18 574.05,634.18 574.55,634.18 575.05,634.18 575.55,634.18 575.96,634.17 576.01,634.17 576.05,634.17 576.06,634.17 576.11,634.17 576.16,634.17 576.21,634.17 576.26,634.17 576.31,634.17 576.36,634.17 576.41,634.17 576.46,634.17 576.51,634.17 576.55,634.17 576.56,634.17 576.61,634.17 576.66,634.17 576.71,634.17 576.76,634.17 576.81,634.17 576.86,634.17 576.91,634.17 576.96,634.17 577.01,634.17 577.05,634.17 577.06,634.17 577.11,634.17 577.16,634.16 577.21,634.16 577.26,634.16 577.31,634.16 577.36,634.16 577.41,634.16 577.46,634.16 577.51,634.16 577.55,634.16 577.56,634.16 577.61,634.16 577.66,634.16 577.71,634.16 577.76,634.16 577.81,634.16 577.86,634.16 577.91,634.16 577.96,634.16 578.01,634.16 578.05,634.15 578.06,634.15 578.11,634.15 578.16,634.15 578.21,634.15 578.26,634.15 578.31,634.15 578.36,634.15 578.41,634.15 578.46,634.15 578.51,634.15 578.55,634.15 578.56,634.15 578.61,634.15 578.66,634.14 578.71,634.14 578.76,634.14 578.81,634.14 578.86,634.14 578.91,634.14 578.96,634.14 579.01,634.14 579.05,634.14 579.06,634.14 579.11,634.14 579.16,634.13 579.21,634.13 579.26,634.13 579.31,634.13 579.36,634.13 579.41,634.13 579.46,634.13 579.51,634.12 579.55,634.12 579.56,634.12 579.61,634.12 579.66,634.12 579.71,634.12 579.76,634.12 579.81,634.11 579.86,634.11 579.91,634.11 579.96,634.11 580.01,634.11 580.05,634.10 580.06,634.10 580.11,634.10 580.16,634.10 580.21,634.10 580.26,634.09 580.31,634.09 580.36,634.09 580.41,634.09 580.46,634.08 580.51,634.08 580.55,634.08 580.56,634.08 580.61,634.07 580.66,634.07 580.71,634.07 580.76,634.06 580.81,634.06 580.86,634.06 580.91,634.05 580.96,634.05 581.01,634.04 581.05,634.04 581.06,634.04 581.11,634.03 581.16,634.03 581.21,634.02 581.26,634.02 581.31,634.01 581.36,634.00 581.41,634.00 581.46,633.99 581.51,633.98 581.55,633.98 581.56,633.97 581.61,633.97 581.66,633.96 581.71,633.95 581.76,633.94 581.81,633.93 581.86,633.92 581.91,633.91 581.96,633.90 582.01,633.88 582.05,633.88 582.06,633.87 582.11,633.86 582.16,633.84 582.21,633.83 582.26,633.81 582.31,633.79 582.36,633.78 582.41,633.76 582.46,633.74 582.51,633.71 582.55,633.70 582.56,633.69 582.61,633.67 582.66,633.64 582.71,633.61 582.76,633.58 582.81,633.55 582.86,633.52 582.91,633.48 582.96,633.45 583.01,633.41 583.05,633.38 583.06,633.37 583.11,633.33 583.16,633.28 583.21,633.24 583.26,633.19 583.31,633.14 583.36,633.10 583.41,633.05 583.46,633.00 583.51,632.95 583.55,632.92 583.56,632.91 583.61,632.86 583.66,632.82 583.71,632.79 583.76,632.76 583.81,632.73 583.86,632.71 583.91,632.70 583.96,632.70 584.01,632.70 584.05,632.71 584.06,632.71 584.11,632.73 584.16,632.76 584.21,632.79 584.26,632.82 584.31,632.86 584.36,632.91 584.41,632.95 584.46,633.00 584.51,633.05 584.55,633.08 584.56,633.10 584.61,633.14 584.66,633.19 584.71,633.24 584.76,633.28 584.81,633.33 584.86,633.37 584.91,633.41 584.96,633.45 585.01,633.48 585.05,633.51 585.06,633.52 585.11,633.55 585.16,633.58 585.21,633.61 585.26,633.64 585.31,633.67 585.36,633.69 585.41,633.71 585.46,633.74 585.51,633.76 585.55,633.77 585.56,633.78 585.61,633.79 585.66,633.81 585.71,633.83 585.76,633.84 585.81,633.86 585.86,633.87 585.91,633.88 585.96,633.90 586.01,633.91 586.05,633.92 586.06,633.92 586.11,633.93 586.16,633.94 586.21,633.95 586.26,633.96 586.31,633.97 586.36,633.97 586.41,633.98 586.46,633.99 586.51,634.00 586.55,634.00 586.56,634.00 586.61,634.01 586.66,634.02 586.71,634.02 586.76,634.03 586.81,634.03 586.86,634.04 586.91,634.04 586.96,634.05 587.01,634.05 587.05,634.05 587.06,634.05 587.11,634.06 587.16,634.06 587.21,634.07 587.26,634.07 587.31,634.07 587.36,634.08 587.41,634.08 587.46,634.08 587.51,634.09 587.55,634.09 587.56,634.09 587.61,634.09 587.66,634.09 587.71,634.10 587.76,634.10 587.81,634.10 587.86,634.10 587.91,634.11 587.96,634.11 588.01,634.11 588.05,634.11 588.06,634.11 588.11,634.11 588.16,634.12 588.21,634.12 588.26,634.12 588.31,634.12 588.36,634.12 588.41,634.12 588.46,634.13 588.51,634.13 588.55,634.13 588.56,634.13 588.61,634.13 588.66,634.13 588.71,634.13 588.76,634.13 588.81,634.13 588.86,634.14 588.91,634.14 588.96,634.14 589.01,634.14 589.05,634.14 589.06,634.14 589.11,634.14 589.16,634.14 589.21,634.14 589.26,634.14 589.31,634.15 589.36,634.15 589.41,634.15 589.46,634.15 589.51,634.15 589.55,634.15 589.56,634.15 589.61,634.15 589.66,634.15 589.71,634.15 589.76,634.15 589.81,634.15 589.86,634.15 589.91,634.15 589.96,634.16 590.01,634.16 590.05,634.16 590.06,634.16 590.11,634.16 590.16,634.16 590.21,634.16 590.26,634.16 590.31,634.16 590.36,634.16 590.41,634.16 590.46,634.16 590.51,634.16 590.55,634.16 590.56,634.16 590.61,634.16 590.66,634.16 590.71,634.16 590.76,634.16 590.81,634.16 590.86,634.17 590.91,634.17 590.96,634.17 591.01,634.17 591.05,634.17 591.06,634.17 591.11,634.17 591.16,634.17 591.21,634.17 591.26,634.17 591.31,634.17 591.36,634.17 591.41,634.17 591.46,634.17 591.51,634.17 591.55,634.17 591.56,634.17 591.61,634.17 591.66,634.17 591.71,634.17 591.76,634.17 591.81,634.17 591.86,634.17 591.91,634.17 592.05,634.17 592.55,634.18 593.05,634.18 593.55,634.18 594.05,634.18 594.55,634.18 595.05,634.18 595.55,634.18 596.05,634.19 596.55,634.19 597.05,634.19 597.55,634.19 598.05,634.19 598.55,634.19 599.05,634.19 599.55,634.19 600.05,634.19 600.55,634.19 601.05,634.19 601.55,634.19 602.05,634.19 602.55,634.19 603.05,634.19 603.55,634.19 604.05,634.19 604.55,634.19 605.05,634.19 605.55,634.19 606.05,634.19 606.55,634.19 607.05,634.19 607.55,634.19 608.05,634.19 608.55,634.19 609.05,634.19 609.55,634.19 610.05,634.19 610.55,634.19 611.05,634.19 611.55,634.19 612.05,634.19 612.55,634.19 613.05,634.19 613.55,634.19 614.05,634.19 614.55,634.19 615.05,634.19 615.55,634.19 616.05,634.19 616.55,634.19 617.05,634.19 617.55,634.19 618.05,634.19 618.55,634.19 619.05,634.19 619.55,634.19 620.05,634.19 620.55,634.19 621.05,634.19 621.55,634.19 622.05,634.19 622.55,634.19 623.05,634.19 623.55,634.19 624.05,634.19 624.55,634.19 625.05,634.19 625.55,634.19 626.05,634.19 626.55,634.19 627.05,634.19 627.55,634.19 628.05,634.19 628.55,634.19 629.05,634.19 629.55,634.19 630.05,634.19 630.55,634.19 631.05,634.19 631.55,634.19 632.05,634.19 632.55,634.19 633.05,634.19 633.55,634.19 634.05,634.19 634.55,634.19 635.05,634.19 635.55,634.19 636.05,634.19 636.55,634.19 637.05,634.19 637.55,634.19 638.05,634.19 638.55,634.19 639.05,634.19 639.55,634.19 640.05,634.19 640.55,634.19 641.05,634.19 641.55,634.19 642.05,634.19 642.55,634.19 643.05,634.19 643.55,634.19 644.05,634.19 644.55,634.19 645.05,634.19 645.55,634.19 646.05,634.19 646.55,634.19 647.05,634.19 647.55,634.19 648.05,634.19 648.55,634.19 649.05,634.19 649.55,634.19 650.05,634.19 650.55,634.19 651.05,634.19 651.55,634.19 652.05,634.19 652.55,634.19 653.05,634.19 653.55,634.19 654.05,634.19 654.55,634.19 655.05,634.19 655.55,634.19 656.05,634.19 656.55,634.19 657.05,634.19 657.55,634.19 658.05,634.19 658.55,634.19 659.05,634.19 659.55,634.19 660.05,634.18 660.55,634.18 661.05,634.18 661.55,634.18 662.05,634.18 662.55,634.18 663.05,634.18 663.55,634.18 664.05,634.18 664.55,634.18 665.05,634.18 665.55,634.18 666.05,634.18 666.55,634.18 667.05,634.18 667.55,634.18 668.05,634.18 668.55,634.18 669.05,634.18 669.55,634.18 670.05,634.18 670.55,634.18 671.05,634.18 671.55,634.18 672.05,634.18 672.55,634.18 673.05,634.18 673.55,634.18 674.05,634.18 674.55,634.17 675.05,634.17 675.55,634.17 676.05,634.17 676.55,634.17 677.05,634.17 677.55,634.17 678.05,634.17 678.55,634.17 679.05,634.17 679.55,634.17 680.05,634.17 680.55,634.17 681.05,634.17 681.55,634.17 682.05,634.16 682.55,634.16 683.05,634.16 683.55,634.16 684.05,634.16 684.55,634.16 685.05,634.16 685.55,634.16 686.05,634.16 686.55,634.15 687.05,634.15 687.55,634.15 688.05,634.15 688.55,634.15 689.05,634.15 689.55,634.14 690.05,634.14 690.55,634.14 691.05,634.14 691.55,634.14 692.05,634.13 692.55,634.13 693.05,634.13 693.55,634.12 694.05,634.12 694.55,634.12 695.05,634.11 695.55,634.11 696.05,634.10 696.55,634.10 697.05,634.09 697.55,634.08 697.73,634.08 697.75,634.08 697.78,634.08 697.80,634.08 697.83,634.07 697.85,634.07 697.88,634.07 697.90,634.07 697.93,634.07 697.95,634.07 697.98,634.07 698.00,634.07 698.03,634.07 698.05,634.07 698.05,634.07 698.08,634.07 698.10,634.07 698.13,634.07 698.15,634.06 698.18,634.06 698.20,634.06 698.23,634.06 698.25,634.06 698.28,634.06 698.30,634.06 698.33,634.06 698.35,634.06 698.38,634.06 698.40,634.05 698.43,634.05 698.45,634.05 698.48,634.05 698.50,634.05 698.53,634.05 698.55,634.05 698.55,634.05 698.58,634.05 698.60,634.05 698.63,634.04 698.65,634.04 698.68,634.04 698.70,634.04 698.73,634.04 698.75,634.04 698.78,634.03 698.80,634.03 698.83,634.03 698.85,634.03 698.88,634.03 698.90,634.02 698.93,634.02 698.95,634.02 698.98,634.02 699.00,634.02 699.03,634.01 699.05,634.01 699.05,634.01 699.08,634.01 699.10,634.00 699.13,634.00 699.15,634.00 699.18,634.00 699.20,633.99 699.23,633.99 699.25,633.98 699.28,633.98 699.30,633.98 699.33,633.97 699.35,633.97 699.38,633.96 699.40,633.96 699.43,633.95 699.45,633.95 699.48,633.94 699.50,633.93 699.53,633.93 699.55,633.92 699.55,633.92 699.58,633.91 699.60,633.90 699.63,633.89 699.65,633.88 699.68,633.87 699.70,633.86 699.73,633.85 699.75,633.84 699.78,633.82 699.80,633.81 699.83,633.79 699.85,633.77 699.88,633.75 699.90,633.73 699.93,633.71 699.95,633.68 699.98,633.65 700.00,633.61 700.03,633.58 700.05,633.54 700.05,633.54 700.08,633.49 700.10,633.44 700.13,633.38 700.15,633.31 700.18,633.23 700.20,633.14 700.23,633.03 700.25,632.91 700.28,632.76 700.30,632.59 700.33,632.38 700.35,632.13 700.38,631.83 700.40,631.47 700.43,631.03 700.45,630.49 700.48,629.85 700.50,629.08 700.53,628.22 700.55,627.42 700.55,627.31 700.58,626.46 700.60,625.84 700.63,625.60 700.65,625.82 700.68,626.43 700.70,627.28 700.73,628.19 700.75,629.06 700.78,629.82 700.80,630.47 700.83,631.01 700.85,631.45 700.88,631.82 700.90,632.12 700.93,632.37 700.95,632.57 700.98,632.75 701.00,632.89 701.03,633.02 701.05,633.11 701.05,633.12 701.08,633.21 701.10,633.29 701.13,633.36 701.15,633.42 701.18,633.47 701.20,633.52 701.23,633.56 701.25,633.60 701.28,633.63 701.30,633.66 701.33,633.68 701.35,633.71 701.38,633.73 701.40,633.75 701.43,633.77 701.45,633.78 701.48,633.80 701.50,633.81 701.53,633.82 701.55,633.84 701.55,633.84 701.58,633.85 701.60,633.86 701.63,633.87 701.65,633.87 701.68,633.88 701.70,633.89 701.73,633.90 701.75,633.90 701.78,633.91 701.80,633.91 701.83,633.92 701.85,633.92 701.88,633.93 701.90,633.93 701.93,633.94 701.95,633.94 701.98,633.94 702.00,633.95 702.03,633.95 702.05,633.95 702.05,633.95 702.08,633.96 702.10,633.96 702.13,633.96 702.15,633.96 702.18,633.96 702.20,633.97 702.23,633.97 702.25,633.97 702.28,633.97 702.30,633.97 702.33,633.97 702.35,633.98 702.38,633.98 702.40,633.98 702.43,633.98 702.45,633.98 702.48,633.98 702.50,633.98 702.53,633.98 702.55,633.98 702.55,633.99 702.58,633.99 702.60,633.99 702.63,633.99 702.65,633.99 702.68,633.99 702.70,633.99 702.73,633.99 702.75,633.99 702.78,633.99 702.80,633.99 702.83,633.99 702.85,633.99 702.88,633.99 702.90,633.99 702.93,633.99 702.95,633.99 702.98,633.99 703.00,633.99 703.03,633.99 703.05,633.99 703.05,633.99 703.08,633.99 703.10,633.99 703.13,633.99 703.15,633.99 703.18,633.99 703.20,633.99 703.23,633.99 703.25,633.99 703.28,633.99 703.30,633.99 703.33,633.99 703.35,633.99 703.38,633.99 703.40,633.99 703.43,633.99 703.45,633.99 703.48,633.99 703.50,633.99 703.55,633.99 704.05,633.99 704.55,633.98 705.05,633.97 705.55,633.95 706.05,633.94 706.55,633.92 706.60,633.92 706.65,633.91 706.70,633.91 706.75,633.91 706.80,633.91 706.85,633.90 706.90,633.90 706.95,633.90 707.00,633.90 707.05,633.90 707.05,633.90 707.10,633.89 707.15,633.89 707.20,633.89 707.25,633.89 707.30,633.88 707.35,633.88 707.40,633.88 707.45,633.88 707.50,633.87 707.55,633.87 707.55,633.87 707.60,633.87 707.65,633.87 707.70,633.86 707.75,633.86 707.80,633.86 707.85,633.86 707.90,633.85 707.95,633.85 708.00,633.85 708.05,633.84 708.05,633.84 708.10,633.84 708.15,633.84 708.20,633.84 708.25,633.83 708.30,633.83 708.35,633.83 708.40,633.82 708.45,633.82 708.50,633.82 708.55,633.81 708.55,633.81 708.60,633.81 708.65,633.81 708.70,633.80 708.75,633.80 708.80,633.80 708.85,633.79 708.90,633.79 708.95,633.78 709.00,633.78 709.05,633.78 709.05,633.78 709.10,633.77 709.15,633.77 709.20,633.76 709.25,633.76 709.30,633.76 709.35,633.75 709.40,633.75 709.45,633.74 709.50,633.74 709.55,633.73 709.55,633.73 709.60,633.73 709.65,633.73 709.70,633.72 709.75,633.72 709.80,633.71 709.85,633.71 709.90,633.70 709.95,633.70 710.00,633.69 710.05,633.69 710.05,633.69 710.10,633.68 710.15,633.68 710.20,633.67 710.25,633.66 710.30,633.66 710.35,633.65 710.40,633.65 710.45,633.64 710.50,633.64 710.55,633.63 710.55,633.63 710.60,633.62 710.65,633.62 710.70,633.61 710.75,633.60 710.80,633.60 710.85,633.59 710.90,633.58 710.95,633.58 711.00,633.57 711.05,633.56 711.05,633.56 711.10,633.56 711.15,633.55 711.20,633.54 711.25,633.53 711.30,633.53 711.35,633.52 711.40,633.51 711.45,633.50 711.50,633.49 711.55,633.48 711.55,633.48 711.60,633.48 711.65,633.47 711.70,633.46 711.75,633.45 711.80,633.44 711.85,633.43 711.90,633.42 711.95,633.41 712.00,633.40 712.05,633.39 712.05,633.39 712.10,633.38 712.15,633.37 712.20,633.36 712.25,633.35 712.30,633.34 712.35,633.33 712.40,633.31 712.45,633.30 712.50,633.29 712.55,633.28 712.55,633.28 712.60,633.26 712.65,633.25 712.70,633.24 712.75,633.22 712.80,633.21 712.85,633.20 712.90,633.18 712.95,633.17 713.00,633.15 713.05,633.14 713.05,633.14 713.10,633.12 713.15,633.11 713.20,633.09 713.25,633.07 713.30,633.06 713.35,633.04 713.40,633.02 713.45,633.00 713.50,632.99 713.55,632.97 713.55,632.96 713.60,632.95 713.65,632.93 713.70,632.91 713.75,632.89 713.80,632.86 713.85,632.84 713.90,632.82 713.95,632.80 714.00,632.77 714.05,632.75 714.05,632.75 714.10,632.73 714.15,632.70 714.20,632.68 714.25,632.65 714.30,632.62 714.35,632.59 714.40,632.57 714.45,632.54 714.50,632.51 714.55,632.48 714.55,632.47 714.60,632.44 714.65,632.41 714.70,632.38 714.75,632.34 714.80,632.31 714.85,632.27 714.90,632.24 714.95,632.20 715.00,632.16 715.05,632.12 715.05,632.12 715.10,632.08 715.15,632.04 715.20,631.99 715.25,631.95 715.30,631.90 715.35,631.85 715.40,631.80 715.45,631.75 715.50,631.70 715.55,631.65 715.55,631.64 715.60,631.59 715.65,631.54 715.70,631.48 715.75,631.42 715.80,631.36 715.85,631.29 715.90,631.23 715.95,631.16 716.00,631.09 716.05,631.01 716.05,631.01 716.10,630.94 716.15,630.86 716.20,630.78 716.25,630.70 716.30,630.62 716.35,630.53 716.40,630.44 716.45,630.34 716.50,630.25 716.55,630.15 716.55,630.14 716.60,630.04 716.65,629.94 716.70,629.83 716.75,629.71 716.80,629.60 716.85,629.47 716.90,629.35 716.95,629.22 717.00,629.08 717.05,628.95 717.05,628.93 717.10,628.80 717.15,628.66 717.20,628.50 717.25,628.35 717.30,628.18 717.35,628.02 717.40,627.84 717.45,627.66 717.50,627.48 717.55,627.29 717.55,627.28 717.60,627.10 717.65,626.90 717.70,626.69 717.75,626.48 717.80,626.27 717.85,626.04 717.90,625.82 717.95,625.59 718.00,625.35 718.05,625.11 718.05,625.09 718.10,624.87 718.15,624.62 718.20,624.37 718.25,624.12 718.30,623.86 718.35,623.61 718.40,623.35 718.45,623.09 718.50,622.84 718.55,622.59 718.55,622.57 718.60,622.34 718.65,622.10 718.70,621.87 718.75,621.64 718.80,621.42 718.85,621.21 718.90,621.02 718.95,620.84 719.00,620.67 719.05,620.52 719.05,620.51 719.10,620.38 719.15,620.27 719.20,620.17 719.25,620.10 719.30,620.04 719.35,620.01 719.40,620.00 719.45,620.01 719.50,620.04 719.55,620.10 719.55,620.10 719.60,620.17 719.65,620.27 719.70,620.38 719.75,620.52 719.80,620.67 719.85,620.83 719.90,621.02 719.95,621.21 720.00,621.42 720.05,621.64 720.05,621.65 720.10,621.86 720.15,622.10 720.20,622.34 720.25,622.59 720.30,622.84 720.35,623.09 720.40,623.35 720.45,623.60 720.50,623.86 720.55,624.11 720.55,624.13 720.60,624.37 720.65,624.62 720.70,624.86 720.75,625.11 720.80,625.35 720.85,625.58 720.90,625.81 720.95,626.04 721.00,626.26 721.05,626.48 721.05,626.50 721.10,626.69 721.15,626.89 721.20,627.09 721.25,627.29 721.30,627.48 721.35,627.66 721.40,627.84 721.45,628.01 721.50,628.18 721.55,628.34 721.55,628.36 721.60,628.50 721.65,628.65 721.70,628.80 721.75,628.94 721.80,629.08 721.85,629.22 721.90,629.35 721.95,629.47 722.00,629.59 722.05,629.71 722.05,629.72 722.10,629.82 722.15,629.93 722.20,630.04 722.25,630.14 722.30,630.24 722.35,630.34 722.40,630.43 722.45,630.52 722.50,630.61 722.55,630.70 722.55,630.70 722.60,630.78 722.65,630.86 722.70,630.94 722.75,631.01 722.80,631.08 722.85,631.15 722.90,631.22 722.95,631.29 723.00,631.35 723.05,631.41 723.05,631.42 723.10,631.47 723.15,631.53 723.20,631.59 723.25,631.65 723.30,631.70 723.35,631.75 723.40,631.80 723.45,631.85 723.50,631.90 723.55,631.94 723.55,631.95 723.60,631.99 723.65,632.03 723.70,632.07 723.75,632.12 723.80,632.16 723.85,632.20 723.90,632.23 723.95,632.27 724.00,632.31 724.05,632.34 724.05,632.34 724.10,632.38 724.15,632.41 724.20,632.44 724.25,632.47 724.30,632.50 724.35,632.53 724.40,632.56 724.45,632.59 724.50,632.62 724.55,632.65 724.55,632.65 724.60,632.67 724.65,632.70 724.70,632.72 724.75,632.75 724.80,632.77 724.85,632.79 724.90,632.82 724.95,632.84 725.00,632.86 725.05,632.88 725.05,632.88 725.10,632.90 725.15,632.92 725.20,632.94 725.25,632.96 725.30,632.98 725.35,633.00 725.40,633.02 725.45,633.04 725.50,633.05 725.55,633.07 725.55,633.07 725.60,633.09 725.65,633.10 725.70,633.12 725.75,633.13 725.80,633.15 725.85,633.16 725.90,633.18 725.95,633.19 726.00,633.21 726.05,633.22 726.05,633.22 726.10,633.23 726.15,633.25 726.20,633.26 726.25,633.27 726.30,633.29 726.35,633.30 726.40,633.31 726.45,633.32 726.50,633.33 726.55,633.34 726.55,633.34 726.60,633.35 726.65,633.37 726.70,633.38 726.75,633.39 726.80,633.40 726.85,633.41 726.90,633.42 726.95,633.43 727.00,633.44 727.05,633.44 727.05,633.45 727.10,633.45 727.15,633.46 727.20,633.47 727.25,633.48 727.30,633.49 727.35,633.50 727.40,633.50 727.45,633.51 727.50,633.52 727.55,633.53 727.55,633.53 727.60,633.54 727.65,633.54 727.70,633.55 727.75,633.56 727.80,633.57 727.85,633.57 727.90,633.58 727.95,633.59 728.00,633.59 728.05,633.60 728.05,633.60 728.10,633.61 728.15,633.61 728.20,633.62 728.25,633.62 728.30,633.63 728.35,633.64 728.40,633.64 728.45,633.65 728.50,633.65 728.55,633.66 728.55,633.66 728.60,633.66 728.65,633.67 728.70,633.68 728.75,633.68 728.80,633.69 728.85,633.69 728.90,633.70 728.95,633.70 729.00,633.71 729.05,633.71 729.05,633.71 729.10,633.71 729.15,633.72 729.20,633.72 729.25,633.73 729.30,633.73 729.35,633.74 729.40,633.74 729.45,633.75 729.50,633.75 729.55,633.75 729.55,633.75 729.60,633.76 729.65,633.76 729.70,633.77 729.75,633.77 729.80,633.77 729.85,633.78 729.90,633.78 729.95,633.78 730.00,633.79 730.05,633.79 730.05,633.79 730.10,633.80 730.15,633.80 730.20,633.80 730.25,633.81 730.30,633.81 730.35,633.81 730.40,633.82 730.45,633.82 730.50,633.82 730.55,633.83 730.55,633.83 730.60,633.83 730.65,633.83 730.70,633.83 730.75,633.84 730.80,633.84 730.85,633.84 730.90,633.85 730.95,633.85 731.00,633.85 731.05,633.85 731.05,633.85 731.10,633.86 731.15,633.86 731.20,633.86 731.25,633.86 731.30,633.87 731.35,633.87 731.40,633.87 731.45,633.87 731.50,633.88 731.55,633.88 731.55,633.88 731.60,633.88 731.65,633.88 731.70,633.89 731.75,633.89 731.80,633.89 731.85,633.89 731.90,633.90 731.95,633.90 732.00,633.90 732.05,633.90 732.05,633.90 732.10,633.90 732.15,633.91 732.55,633.92 733.05,633.94 733.55,633.95 734.05,633.97 734.55,633.98 735.05,633.99 735.55,634.00 736.05,634.01 736.55,634.01 737.05,634.02 737.55,634.02 738.05,634.03 738.55,634.03 739.05,634.03 739.55,634.03 739.55,634.03 739.60,634.03 739.65,634.03 739.70,634.03 739.75,634.02 739.80,634.02 739.85,634.02 739.90,634.02 739.95,634.02 740.00,634.02 740.05,634.02 740.05,634.02 740.10,634.02 740.15,634.02 740.20,634.02 740.25,634.02 740.30,634.02 740.35,634.02 740.40,634.02 740.45,634.01 740.50,634.01 740.55,634.01 740.55,634.01 740.60,634.01 740.65,634.01 740.70,634.01 740.75,634.01 740.80,634.01 740.85,634.00 740.90,634.00 740.95,634.00 741.00,634.00 741.05,634.00 741.05,634.00 741.10,634.00 741.15,633.99 741.20,633.99 741.25,633.99 741.30,633.99 741.35,633.99 741.40,633.98 741.45,633.98 741.50,633.98 741.55,633.97 741.55,633.97 741.60,633.97 741.65,633.97 741.70,633.97 741.75,633.96 741.80,633.96 741.85,633.95 741.90,633.95 741.95,633.95 742.00,633.94 742.05,633.94 742.05,633.94 742.10,633.93 742.15,633.93 742.20,633.92 742.25,633.92 742.30,633.91 742.35,633.91 742.40,633.90 742.45,633.89 742.50,633.89 742.55,633.88 742.55,633.88 742.60,633.87 742.65,633.86 742.70,633.85 742.75,633.84 742.80,633.83 742.85,633.82 742.90,633.81 742.95,633.80 743.00,633.78 743.05,633.77 743.05,633.77 743.10,633.76 743.15,633.74 743.20,633.72 743.25,633.70 743.30,633.69 743.35,633.66 743.40,633.64 743.45,633.62 743.50,633.59 743.55,633.56 743.55,633.56 743.60,633.53 743.65,633.50 743.70,633.46 743.75,633.42 743.80,633.38 743.85,633.33 743.90,633.28 743.95,633.23 744.00,633.16 744.05,633.10 744.05,633.10 744.10,633.02 744.15,632.94 744.20,632.85 744.25,632.75 744.30,632.64 744.35,632.52 744.40,632.39 744.45,632.24 744.50,632.08 744.55,631.91 744.55,631.90 744.60,631.71 744.65,631.51 744.70,631.29 744.75,631.06 744.80,630.82 744.85,630.58 744.90,630.35 744.95,630.14 745.00,629.96 745.05,629.83 745.05,629.82 745.10,629.73 745.15,629.70 745.20,629.73 745.25,629.82 745.30,629.96 745.35,630.14 745.40,630.35 745.45,630.58 745.50,630.82 745.55,631.05 745.55,631.06 745.60,631.29 745.65,631.51 745.70,631.72 745.75,631.91 745.80,632.09 745.85,632.25 745.90,632.39 745.95,632.53 746.00,632.65 746.05,632.75 746.05,632.76 746.10,632.86 746.15,632.95 746.20,633.03 746.25,633.11 746.30,633.17 746.35,633.24 746.40,633.29 746.45,633.34 746.50,633.39 746.55,633.43 746.55,633.43 746.60,633.47 746.65,633.51 746.70,633.54 746.75,633.58 746.80,633.60 746.85,633.63 746.90,633.66 746.95,633.68 747.00,633.70 747.05,633.72 747.05,633.72 747.10,633.74 747.15,633.76 747.20,633.77 747.25,633.79 747.30,633.80 747.35,633.82 747.40,633.83 747.45,633.84 747.50,633.85 747.55,633.86 747.55,633.86 747.60,633.87 747.65,633.88 747.70,633.89 747.75,633.90 747.80,633.91 747.85,633.91 747.90,633.92 747.95,633.93 748.00,633.94 748.05,633.94 748.05,633.94 748.10,633.95 748.15,633.95 748.20,633.96 748.25,633.96 748.30,633.97 748.35,633.97 748.40,633.98 748.45,633.98 748.50,633.99 748.55,633.99 748.55,633.99 748.60,633.99 748.65,634.00 748.70,634.00 748.75,634.00 748.80,634.01 748.85,634.01 748.90,634.01 748.95,634.02 749.00,634.02 749.05,634.02 749.05,634.02 749.10,634.02 749.15,634.03 749.20,634.03 749.25,634.03 749.30,634.03 749.35,634.04 749.40,634.04 749.45,634.04 749.50,634.04 749.55,634.04 749.55,634.04 749.60,634.05 749.65,634.05 749.70,634.05 749.75,634.05 749.80,634.05 749.85,634.05 749.90,634.06 749.95,634.06 750.00,634.06 750.05,634.06 750.05,634.06 750.10,634.06 750.15,634.06 750.20,634.06 750.25,634.06 750.30,634.07 750.35,634.07 750.40,634.07 750.45,634.07 750.50,634.07 750.55,634.07 750.55,634.07 750.60,634.07 750.65,634.07 750.70,634.07 751.05,634.08 751.26,634.08 751.31,634.08 751.36,634.08 751.41,634.08 751.46,634.08 751.51,634.09 751.55,634.09 751.56,634.09 751.61,634.09 751.66,634.09 751.71,634.09 751.76,634.09 751.81,634.09 751.86,634.09 751.91,634.09 751.96,634.09 752.01,634.09 752.05,634.09 752.06,634.09 752.11,634.09 752.16,634.09 752.21,634.09 752.26,634.09 752.31,634.09 752.36,634.09 752.41,634.09 752.46,634.09 752.51,634.09 752.55,634.09 752.56,634.09 752.61,634.09 752.66,634.10 752.71,634.10 752.76,634.10 752.81,634.10 752.86,634.10 752.91,634.10 752.96,634.10 753.01,634.10 753.05,634.10 753.06,634.10 753.11,634.10 753.16,634.10 753.21,634.10 753.26,634.10 753.31,634.10 753.36,634.10 753.41,634.10 753.46,634.10 753.51,634.10 753.55,634.10 753.56,634.10 753.61,634.10 753.66,634.10 753.71,634.10 753.76,634.10 753.81,634.10 753.86,634.10 753.91,634.10 753.96,634.10 754.01,634.10 754.05,634.10 754.06,634.10 754.11,634.10 754.16,634.10 754.21,634.10 754.26,634.10 754.31,634.10 754.36,634.10 754.41,634.10 754.46,634.10 754.51,634.10 754.55,634.10 754.56,634.10 754.61,634.10 754.66,634.10 754.71,634.10 754.76,634.10 754.81,634.10 754.86,634.10 754.91,634.10 754.96,634.10 755.01,634.10 755.05,634.10 755.06,634.10 755.11,634.10 755.16,634.10 755.21,634.10 755.26,634.10 755.31,634.10 755.36,634.10 755.41,634.10 755.46,634.10 755.51,634.10 755.55,634.10 755.56,634.10 755.61,634.10 755.66,634.10 755.71,634.10 755.76,634.10 755.81,634.10 755.86,634.10 755.91,634.10 755.96,634.10 756.01,634.10 756.05,634.10 756.06,634.10 756.11,634.10 756.16,634.10 756.21,634.10 756.26,634.10 756.31,634.09 756.36,634.09 756.41,634.09 756.46,634.09 756.51,634.09 756.55,634.09 756.56,634.09 756.61,634.09 756.66,634.09 756.71,634.09 756.76,634.09 756.81,634.09 756.86,634.09 756.91,634.09 756.96,634.09 757.01,634.09 757.05,634.09 757.06,634.09 757.11,634.09 757.16,634.09 757.21,634.09 757.26,634.09 757.31,634.09 757.36,634.09 757.41,634.09 757.46,634.09 757.51,634.09 757.55,634.09 757.56,634.09 757.61,634.09 757.66,634.08 757.71,634.08 757.76,634.08 757.81,634.08 757.86,634.08 757.91,634.08 757.96,634.08 758.01,634.08 758.05,634.08 758.06,634.08 758.11,634.08 758.16,634.08 758.21,634.08 758.26,634.08 758.31,634.08 758.36,634.08 758.41,634.08 758.46,634.08 758.51,634.08 758.55,634.07 758.56,634.07 758.61,634.07 758.66,634.07 758.71,634.07 758.76,634.07 758.81,634.07 758.86,634.07 758.91,634.07 758.96,634.07 759.01,634.07 759.05,634.07 759.06,634.07 759.11,634.07 759.16,634.07 759.21,634.06 759.26,634.06 759.31,634.06 759.36,634.06 759.41,634.06 759.46,634.06 759.51,634.06 759.55,634.06 759.56,634.06 759.61,634.06 759.66,634.06 759.71,634.05 759.76,634.05 759.81,634.05 759.86,634.05 759.91,634.05 759.96,634.05 760.01,634.05 760.05,634.05 760.06,634.05 760.11,634.05 760.16,634.04 760.21,634.04 760.26,634.04 760.31,634.04 760.36,634.04 760.41,634.04 760.46,634.04 760.51,634.04 760.55,634.03 760.56,634.03 760.61,634.03 760.66,634.03 760.71,634.03 760.76,634.03 760.81,634.03 760.86,634.02 760.91,634.02 760.96,634.02 761.01,634.02 761.05,634.02 761.06,634.02 761.11,634.02 761.16,634.01 761.21,634.01 761.26,634.01 761.31,634.01 761.36,634.01 761.41,634.01 761.46,634.00 761.51,634.00 761.55,634.00 761.56,634.00 761.61,634.00 761.66,633.99 761.71,633.99 761.76,633.99 761.81,633.99 761.86,633.99 761.91,633.98 761.96,633.98 762.01,633.98 762.05,633.98 762.06,633.98 762.11,633.97 762.16,633.97 762.21,633.97 762.26,633.96 762.31,633.96 762.36,633.96 762.41,633.96 762.46,633.95 762.51,633.95 762.55,633.95 762.56,633.95 762.61,633.94 762.66,633.94 762.71,633.94 762.76,633.93 762.81,633.93 762.86,633.93 762.91,633.92 762.96,633.92 763.01,633.92 763.05,633.91 763.06,633.91 763.11,633.91 763.16,633.90 763.21,633.90 763.26,633.89 763.31,633.89 763.36,633.89 763.41,633.88 763.46,633.88 763.51,633.87 763.55,633.87 763.56,633.87 763.61,633.86 763.66,633.86 763.71,633.85 763.76,633.85 763.81,633.84 763.86,633.84 763.91,633.83 763.96,633.82 764.01,633.82 764.05,633.81 764.06,633.81 764.11,633.80 764.16,633.80 764.21,633.79 764.26,633.79 764.31,633.78 764.36,633.77 764.41,633.76 764.46,633.76 764.51,633.75 764.55,633.74 764.56,633.74 764.61,633.73 764.66,633.72 764.71,633.72 764.76,633.71 764.81,633.70 764.86,633.69 764.91,633.68 764.96,633.67 765.01,633.66 765.05,633.65 765.06,633.65 765.11,633.64 765.16,633.63 765.21,633.62 765.26,633.61 765.31,633.60 765.36,633.59 765.41,633.57 765.46,633.56 765.51,633.55 765.55,633.54 765.56,633.54 765.61,633.53 765.66,633.51 765.71,633.50 765.76,633.49 765.81,633.47 765.86,633.46 765.91,633.44 765.96,633.43 766.01,633.41 766.05,633.40 766.06,633.40 766.11,633.38 766.16,633.37 766.21,633.35 766.26,633.34 766.31,633.32 766.36,633.30 766.41,633.29 766.46,633.27 766.51,633.25 766.55,633.24 766.56,633.23 766.61,633.22 766.66,633.20 766.71,633.18 766.76,633.16 766.81,633.15 766.86,633.13 766.91,633.11 766.96,633.09 767.01,633.07 767.05,633.06 767.06,633.06 767.11,633.04 767.16,633.02 767.21,633.01 767.26,632.99 767.31,632.97 767.36,632.96 767.41,632.94 767.46,632.93 767.51,632.91 767.55,632.90 767.56,632.90 767.61,632.89 767.66,632.87 767.71,632.86 767.76,632.85 767.81,632.84 767.86,632.83 767.91,632.83 767.96,632.82 768.01,632.81 768.05,632.81 768.06,632.81 768.11,632.80 768.16,632.80 768.21,632.80 768.26,632.80 768.31,632.80 768.36,632.80 768.41,632.81 768.46,632.81 768.51,632.81 768.55,632.82 768.56,632.82 768.61,632.83 768.66,632.83 768.71,632.84 768.76,632.85 768.81,632.86 768.86,632.88 768.91,632.89 768.96,632.90 769.01,632.91 769.05,632.93 769.06,632.93 769.11,632.94 769.16,632.96 769.21,632.97 769.26,632.99 769.31,633.01 769.36,633.02 769.41,633.04 769.46,633.06 769.51,633.08 769.55,633.09 769.56,633.09 769.61,633.11 769.66,633.13 769.71,633.15 769.76,633.17 769.81,633.18 769.86,633.20 769.91,633.22 769.96,633.24 770.01,633.25 770.05,633.27 770.06,633.27 770.11,633.29 770.16,633.31 770.21,633.32 770.26,633.34 770.31,633.36 770.36,633.37 770.41,633.39 770.46,633.40 770.51,633.42 770.55,633.43 770.56,633.43 770.61,633.45 770.66,633.46 770.71,633.48 770.76,633.49 770.81,633.50 770.86,633.52 770.91,633.53 770.96,633.54 771.01,633.56 771.05,633.57 771.06,633.57 771.11,633.58 771.16,633.59 771.21,633.60 771.26,633.61 771.31,633.63 771.36,633.64 771.41,633.65 771.46,633.66 771.51,633.67 771.55,633.68 771.56,633.68 771.61,633.69 771.66,633.70 771.71,633.71 771.76,633.71 771.81,633.72 771.86,633.73 771.91,633.74 771.96,633.75 772.01,633.76 772.05,633.76 772.06,633.76 772.11,633.77 772.16,633.78 772.21,633.79 772.26,633.79 772.31,633.80 772.36,633.81 772.41,633.81 772.46,633.82 772.51,633.83 772.55,633.83 772.56,633.83 772.61,633.84 772.66,633.84 772.71,633.85 772.76,633.86 772.81,633.86 772.86,633.87 772.91,633.87 772.96,633.88 773.01,633.88 773.05,633.89 773.06,633.89 773.11,633.89 773.16,633.90 773.21,633.90 773.26,633.91 773.31,633.91 773.36,633.91 773.41,633.92 773.46,633.92 773.51,633.93 773.55,633.93 773.56,633.93 773.61,633.93 773.66,633.94 773.71,633.94 773.76,633.95 773.81,633.95 773.86,633.95 773.91,633.96 773.96,633.96 774.01,633.96 774.05,633.96 774.06,633.97 774.11,633.97 774.16,633.97 774.21,633.97 774.26,633.98 774.31,633.98 774.36,633.98 774.41,633.99 774.46,633.99 774.51,633.99 774.55,633.99 774.56,633.99 774.61,634.00 774.66,634.00 774.71,634.00 774.76,634.00 774.81,634.01 774.86,634.01 774.91,634.01 774.96,634.01 775.01,634.02 775.05,634.02 775.06,634.02 775.11,634.02 775.16,634.02 775.21,634.02 775.26,634.03 775.31,634.03 775.36,634.03 775.41,634.03 775.46,634.03 775.51,634.04 775.55,634.04 775.56,634.04 775.61,634.04 775.66,634.04 775.71,634.04 775.76,634.04 775.81,634.05 775.86,634.05 775.91,634.05 775.96,634.05 776.01,634.05 776.05,634.05 776.06,634.05 776.11,634.06 776.16,634.06 776.21,634.06 776.26,634.06 776.31,634.06 776.36,634.06 776.41,634.06 776.46,634.07 776.51,634.07 776.55,634.07 776.56,634.07 776.61,634.07 776.66,634.07 776.71,634.07 776.76,634.07 776.81,634.07 776.86,634.08 776.91,634.08 776.96,634.08 777.01,634.08 777.05,634.08 777.06,634.08 777.11,634.08 777.16,634.08 777.21,634.08 777.26,634.08 777.31,634.09 777.36,634.09 777.41,634.09 777.46,634.09 777.51,634.09 777.55,634.09 777.56,634.09 777.61,634.09 777.66,634.09 777.71,634.09 777.76,634.09 777.81,634.09 777.86,634.10 777.91,634.10 777.96,634.10 778.01,634.10 778.05,634.10 778.06,634.10 778.11,634.10 778.16,634.10 778.21,634.10 778.26,634.10 778.31,634.10 778.36,634.10 778.41,634.10 778.46,634.11 778.51,634.11 778.55,634.11 778.56,634.11 778.61,634.11 778.66,634.11 778.71,634.11 778.76,634.11 778.81,634.11 778.86,634.11 778.91,634.11 778.96,634.11 779.01,634.11 779.05,634.11 779.06,634.11 779.11,634.11 779.16,634.11 779.21,634.12 779.26,634.12 779.31,634.12 779.36,634.12 779.41,634.12 779.46,634.12 779.51,634.12 779.55,634.12 779.56,634.12 779.61,634.12 779.66,634.12 779.71,634.12 779.76,634.12 779.81,634.12 779.86,634.12 779.91,634.12 779.96,634.12 780.01,634.12 780.05,634.12 780.06,634.12 780.11,634.13 780.16,634.13 780.21,634.13 780.26,634.13 780.31,634.13 780.36,634.13 780.41,634.13 780.46,634.13 780.51,634.13 780.55,634.13 780.56,634.13 780.61,634.13 780.66,634.13 780.71,634.13 780.76,634.13 780.81,634.13 780.86,634.13 780.91,634.13 780.96,634.13 781.01,634.13 781.05,634.13 781.06,634.13 781.11,634.13 781.16,634.13 781.21,634.14 781.26,634.14 781.31,634.14 781.36,634.14 781.41,634.14 781.46,634.14 781.51,634.14 781.55,634.14 781.56,634.14 781.61,634.14 781.66,634.14 781.71,634.14 781.76,634.14 781.81,634.14 781.86,634.14 781.91,634.14 781.96,634.14 782.01,634.14 782.05,634.14 782.06,634.14 782.11,634.14 782.16,634.14 782.21,634.14 782.26,634.14 782.31,634.14 782.36,634.14 782.41,634.14 782.46,634.14 782.51,634.14 782.55,634.14 782.56,634.14 782.61,634.14 782.66,634.14 782.71,634.14 782.76,634.15 782.81,634.15 782.86,634.15 782.91,634.15 782.96,634.15 783.01,634.15 783.05,634.15 783.06,634.15 783.11,634.15 783.16,634.15 783.21,634.15 783.26,634.15 783.31,634.15 783.36,634.15 783.41,634.15 783.46,634.15 783.51,634.15 783.55,634.15 783.56,634.15 783.61,634.15 783.66,634.15 783.71,634.15 783.76,634.15 783.81,634.15 783.86,634.15 783.91,634.15 783.96,634.15 784.01,634.15 784.05,634.15 784.06,634.15 784.11,634.15 784.16,634.15 784.21,634.15 784.26,634.15 784.31,634.15 784.36,634.15 784.41,634.15 784.46,634.15 784.51,634.15 784.55,634.15 784.56,634.15 784.61,634.15 784.66,634.15 784.71,634.15 784.76,634.15 784.81,634.15 784.86,634.15 784.91,634.16 784.96,634.16 785.01,634.16 785.05,634.16 785.06,634.16 785.11,634.16 785.16,634.16 785.21,634.16 785.55,634.16 786.05,634.16 786.55,634.16 787.05,634.16 787.55,634.16 788.05,634.16 788.55,634.17 789.05,634.17 789.55,634.17 790.05,634.17 790.55,634.17 791.05,634.17 791.55,634.17 792.05,634.17 792.55,634.17 793.05,634.17 793.55,634.17 794.05,634.17 794.55,634.17 795.05,634.17 795.55,634.17 796.05,634.17 796.55,634.17 797.05,634.17 797.55,634.17 798.05,634.17 798.55,634.17 799.05,634.17 799.55,634.17 800.05,634.17 800.55,634.17 801.05,634.17 801.55,634.17 802.05,634.17 802.55,634.17 803.05,634.17 803.55,634.17 804.05,634.17 804.55,634.17 805.05,634.17 805.55,634.17 806.05,634.16 806.55,634.16 807.05,634.16 807.55,634.16 808.05,634.15 808.55,634.15 809.05,634.14 809.55,634.13 810.05,634.13 810.55,634.11 811.05,634.10 811.55,634.08 812.05,634.05 812.55,634.01 813.05,633.95 813.27,633.91 813.29,633.90 813.32,633.90 813.34,633.89 813.37,633.89 813.39,633.88 813.42,633.88 813.44,633.87 813.47,633.86 813.49,633.86 813.52,633.85 813.54,633.85 813.55,633.84 813.57,633.84 813.59,633.83 813.62,633.83 813.64,633.82 813.67,633.81 813.69,633.80 813.72,633.80 813.74,633.79 813.77,633.78 813.79,633.77 813.82,633.76 813.84,633.75 813.87,633.74 813.89,633.73 813.92,633.72 813.94,633.71 813.97,633.70 813.99,633.69 814.02,633.68 814.04,633.67 814.05,633.66 814.07,633.65 814.09,633.64 814.12,633.63 814.14,633.61 814.17,633.60 814.19,633.58 814.22,633.57 814.24,633.55 814.27,633.54 814.29,633.52 814.32,633.50 814.34,633.48 814.37,633.46 814.39,633.44 814.42,633.42 814.44,633.40 814.47,633.37 814.49,633.35 814.52,633.32 814.54,633.30 814.55,633.29 814.57,633.27 814.59,633.24 814.62,633.21 814.64,633.18 814.67,633.14 814.69,633.11 814.72,633.07 814.74,633.03 814.77,632.99 814.79,632.95 814.82,632.90 814.84,632.85 814.87,632.80 814.89,632.75 814.92,632.69 814.94,632.63 814.97,632.56 814.99,632.50 815.02,632.42 815.04,632.34 815.05,632.31 815.07,632.26 815.09,632.17 815.12,632.08 815.14,631.97 815.17,631.86 815.19,631.75 815.22,631.62 815.24,631.48 815.27,631.33 815.29,631.17 815.32,631.00 815.34,630.81 815.37,630.60 815.39,630.37 815.42,630.13 815.44,629.85 815.47,629.55 815.49,629.22 815.52,628.85 815.54,628.44 815.55,628.28 815.57,627.98 815.59,627.46 815.62,626.88 815.64,626.22 815.67,625.47 815.69,624.61 815.72,623.63 815.74,622.49 815.77,621.17 815.79,619.63 815.82,617.81 815.84,615.65 815.87,613.08 815.89,609.99 815.92,606.25 815.94,601.72 815.97,596.20 815.99,589.50 816.02,581.44 816.04,571.92 816.05,568.16 816.07,561.13 816.09,549.74 816.12,539.13 816.14,531.35 816.17,528.40 816.19,531.17 816.22,538.83 816.24,549.38 816.27,560.77 816.29,571.59 816.32,581.15 816.34,589.27 816.37,596.01 816.39,601.56 816.42,606.12 816.44,609.88 816.47,612.99 816.49,615.58 816.52,617.74 816.54,619.57 816.55,620.16 816.57,621.13 816.59,622.45 816.62,623.59 816.64,624.58 816.67,625.44 816.69,626.20 816.72,626.86 816.74,627.44 816.77,627.96 816.79,628.42 816.82,628.84 816.84,629.21 816.87,629.54 816.89,629.84 816.92,630.12 816.94,630.37 816.97,630.59 816.99,630.80 817.02,630.99 817.04,631.17 817.05,631.23 817.07,631.33 817.09,631.48 817.12,631.62 817.14,631.74 817.17,631.86 817.19,631.97 817.22,632.07 817.24,632.17 817.27,632.26 817.29,632.34 817.32,632.42 817.34,632.49 817.37,632.56 817.39,632.63 817.42,632.69 817.44,632.75 817.47,632.80 817.49,632.85 817.52,632.90 817.54,632.95 817.55,632.96 817.57,632.99 817.59,633.03 817.62,633.07 817.64,633.11 817.67,633.14 817.69,633.18 817.72,633.21 817.74,633.24 817.77,633.27 817.79,633.30 817.82,633.32 817.84,633.35 817.87,633.37 817.89,633.40 817.92,633.42 817.94,633.44 817.97,633.46 817.99,633.48 818.02,633.50 818.04,633.52 818.05,633.52 818.07,633.54 818.09,633.55 818.12,633.57 818.14,633.58 818.17,633.60 818.19,633.61 818.22,633.63 818.24,633.64 818.27,633.65 818.29,633.67 818.32,633.68 818.34,633.69 818.37,633.70 818.39,633.71 818.42,633.72 818.44,633.73 818.47,633.74 818.49,633.75 818.52,633.76 818.54,633.77 818.55,633.77 818.57,633.78 818.59,633.79 818.62,633.80 818.64,633.80 818.67,633.81 818.69,633.82 818.72,633.83 818.74,633.83 818.77,633.84 818.79,633.85 818.82,633.85 818.84,633.86 818.87,633.87 818.89,633.87 818.92,633.88 818.94,633.88 818.97,633.89 818.99,633.89 819.02,633.90 819.04,633.90 819.05,633.91 819.55,633.98 820.05,634.03 820.55,634.07 821.05,634.09 821.55,634.11 822.05,634.12 822.55,634.13 823.05,634.14 823.55,634.15 824.05,634.15 824.55,634.16 825.05,634.16 825.55,634.17 826.05,634.17 826.55,634.17 827.05,634.17 827.55,634.17 828.05,634.18 828.55,634.18 829.05,634.18 829.55,634.18 830.05,634.18 830.55,634.18 831.05,634.18 831.55,634.18 832.05,634.18 832.55,634.19 833.05,634.19 833.55,634.19 834.05,634.19 834.55,634.19 835.05,634.19 835.55,634.19 836.05,634.19 836.55,634.19 837.05,634.19 837.55,634.19 838.05,634.19 838.55,634.19 839.05,634.19 839.55,634.19 840.05,634.19 840.55,634.19 841.05,634.19 841.55,634.19 842.05,634.19 842.55,634.19 843.05,634.19 843.55,634.19 844.05,634.19 844.55,634.19 845.05,634.19 845.55,634.19 846.05,634.19 846.55,634.19 847.05,634.19 847.55,634.19 848.05,634.19 848.55,634.19 849.05,634.19 849.55,634.19 850.05,634.19 850.55,634.19 851.05,634.19 851.55,634.19 852.05,634.19 852.55,634.19 853.05,634.19 853.55,634.19 854.05,634.19 854.55,634.19 855.05,634.19 855.55,634.19 856.05,634.19 856.55,634.19 857.05,634.19 857.55,634.19 858.05,634.19 858.55,634.19 859.05,634.19 859.55,634.20 860.05,634.20 860.55,634.20 861.05,634.20 861.55,634.20 862.05,634.20 862.55,634.20 863.05,634.20 863.55,634.20 864.05,634.20 864.55,634.20 865.05,634.20 865.55,634.20 866.05,634.20 866.55,634.20 867.05,634.20 867.55,634.20 868.05,634.20 868.55,634.20 869.05,634.20 869.55,634.20 870.05,634.20 870.55,634.20 871.05,634.20 871.55,634.20 872.05,634.20 872.55,634.20 873.05,634.20" fill="none" stroke="#6e6e6e" stroke-width="1" stroke-linejoin="round"/>
<polyline points="303.42,626.07 303.42,626.05 303.43,625.84 303.43,625.82 303.44,625.62 303.44,625.60 303.45,625.37 303.46,625.35 303.47,625.13 303.47,625.11 303.48,624.86 303.48,624.84 303.49,624.60 303.49,624.58 303.50,624.30 303.51,624.28 303.52,624.02 303.52,623.99 303.53,623.70 303.53,623.67 303.54,623.38 303.54,623.36 303.55,623.17 303.56,623.03 303.56,623.00 303.57,622.68 303.57,622.65 303.58,622.29 303.58,622.26 303.59,621.91 303.59,621.88 303.61,621.48 303.61,621.45 303.62,621.06 303.62,621.02 303.63,620.58 303.63,620.54 303.64,620.11 303.64,620.07 303.65,619.57 303.66,619.53 303.67,619.05 303.67,619.01 303.68,618.45 303.68,618.40 303.69,617.87 303.69,617.82 303.70,617.19 303.71,617.14 303.72,616.53 303.72,616.48 303.73,615.77 303.73,615.71 303.74,615.02 303.74,614.96 303.75,614.16 303.76,614.09 303.77,613.31 303.77,613.24 303.78,612.32 303.78,612.25 303.79,611.35 303.79,611.27 303.81,610.22 303.81,610.13 303.82,609.10 303.82,609.00 303.83,607.79 303.83,607.68 303.84,606.49 303.84,606.38 303.86,604.97 303.86,604.85 303.87,603.45 303.87,603.32 303.88,601.68 303.88,601.53 303.89,599.89 303.89,599.74 303.90,597.80 303.91,597.63 303.92,595.69 303.92,595.51 303.93,593.21 303.93,593.01 303.94,590.70 303.94,590.48 303.95,587.73 303.96,587.49 303.97,584.73 303.97,584.47 303.98,581.17 303.98,580.88 303.99,577.57 303.99,577.25 304.00,573.29 304.01,572.94 304.02,568.96 304.02,568.58 304.03,563.82 304.03,563.41 304.04,558.64 304.04,558.19 304.05,554.95 304.06,552.53 304.06,552.04 304.07,546.43 304.07,545.90 304.08,539.31 304.08,538.74 304.09,532.30 304.09,531.70 304.11,524.32 304.11,523.69 304.12,516.67 304.12,516.02 304.13,508.25 304.13,507.60 304.14,500.52 304.14,499.88 304.15,492.42 304.16,491.82 304.17,485.43 304.17,484.87 304.18,478.58 304.18,478.09 304.19,473.09 304.19,472.67 304.20,468.14 304.21,467.80 304.22,464.52 304.22,464.26 304.23,461.63 304.23,461.45 304.24,459.85 304.24,459.74 304.25,458.86 304.26,458.82 304.27,458.80 304.27,458.84 304.28,459.69 304.28,459.80 304.29,461.42 304.29,461.60 304.31,464.27 304.31,464.54 304.32,467.77 304.32,468.10 304.33,472.38 304.33,472.76 304.34,477.22 304.34,477.64 304.36,482.85 304.36,483.29 304.37,488.18 304.37,488.62 304.38,493.84 304.38,494.26 304.39,498.77 304.39,499.16 304.40,503.59 304.41,503.94 304.42,507.46 304.42,507.75 304.43,510.90 304.43,511.13 304.44,513.34 304.44,513.51 304.45,515.13 304.46,515.23 304.47,515.97 304.47,516.01 304.48,516.00 304.48,515.97 304.49,515.22 304.49,515.12 304.50,513.49 304.51,513.32 304.52,511.12 304.52,510.88 304.53,507.73 304.53,507.43 304.54,503.91 304.54,503.57 304.55,501.04 304.56,499.13 304.56,498.73 304.57,494.23 304.57,493.81 304.58,488.58 304.58,488.14 304.59,483.26 304.59,482.81 304.61,477.60 304.61,477.18 304.62,472.73 304.62,472.35 304.63,468.07 304.63,467.75 304.64,464.51 304.64,464.25 304.65,461.59 304.66,461.41 304.67,459.80 304.67,459.69 304.68,458.83 304.68,458.80 304.69,458.82 304.69,458.86 304.70,459.75 304.71,459.86 304.72,461.46 304.72,461.64 304.73,464.29 304.73,464.55 304.74,467.83 304.74,468.16 304.75,472.70 304.76,473.12 304.77,478.13 304.77,478.62 304.78,484.91 304.78,485.47 304.79,491.87 304.79,492.47 304.81,499.93 304.81,500.57 304.82,507.65 304.82,508.30 304.83,516.08 304.83,516.72 304.84,523.74 304.84,524.37 304.86,531.75 304.86,532.35 304.87,538.78 304.87,539.35 304.88,545.94 304.88,546.47 304.89,552.08 304.89,552.57 304.90,558.23 304.91,558.68 304.92,563.44 304.92,563.86 304.93,568.61 304.93,568.99 304.94,572.97 304.94,573.32 304.95,577.28 304.96,577.59 304.97,580.91 304.97,581.20 304.98,584.49 304.98,584.75 304.99,587.51 304.99,587.75 305.00,590.50 305.01,590.72 305.02,593.02 305.02,593.22 305.03,595.52 305.03,595.71 305.04,597.64 305.04,597.81 305.05,598.96 305.06,599.75 305.06,599.91 305.07,601.54 305.07,601.69 305.08,603.33 305.08,603.46 305.09,604.86 305.09,604.98 305.11,606.39 305.11,606.50 305.12,607.69 305.12,607.80 305.13,609.01 305.13,609.10 305.14,610.13 305.14,610.23 305.15,611.27 305.16,611.36 305.17,612.25 305.17,612.33 305.18,613.24 305.18,613.31 305.19,614.10 305.19,614.17 305.20,614.96 305.21,615.03 305.22,615.72 305.22,615.78 305.23,616.48 305.23,616.54 305.24,617.14 305.24,617.20 305.25,617.82 305.26,617.87 305.27,618.41 305.27,618.46 305.28,619.01 305.28,619.05 305.29,619.53 305.29,619.58 305.31,620.07 305.31,620.11 305.32,620.54 305.32,620.58 305.33,621.02 305.33,621.06 305.34,621.45 305.34,621.48 305.36,621.88 305.36,621.91 305.37,622.26 305.37,622.29 305.38,622.66 305.38,622.69 305.39,623.00 305.39,623.03 305.40,623.36 305.41,623.38 305.42,623.67 305.42,623.70 305.43,624.00 305.43,624.02 305.44,624.28 305.44,624.31 305.45,624.58 305.46,624.60 305.47,624.84 305.47,624.86 305.48,625.11 305.48,625.13 305.49,625.35 305.49,625.37 305.50,625.60 305.51,625.62 305.52,625.82 305.52,625.84 305.53,626.05 305.53,626.07" fill="none" stroke="#555" stroke-width="0.9" stroke-linejoin="round"/>
<polyline points="339.06,626.16 339.07,626.04 339.07,625.95 339.08,625.80 339.09,625.70 339.09,625.57 339.10,625.47 339.11,625.31 339.11,625.20 339.12,625.06 339.12,624.95 339.13,624.77 339.14,624.66 339.14,624.50 339.15,624.38 339.16,624.18 339.16,624.06 339.17,623.88 339.17,623.75 339.18,623.54 339.19,623.40 339.19,623.20 339.20,623.06 339.21,622.82 339.21,622.67 339.22,622.45 339.22,622.29 339.23,622.03 339.24,621.86 339.24,621.62 339.25,621.44 339.26,621.15 339.26,620.96 339.27,620.69 339.27,620.49 339.28,620.16 339.29,619.95 339.29,619.65 339.30,619.42 339.31,619.05 339.31,618.82 339.32,618.48 339.32,618.22 339.33,617.81 339.34,617.54 339.34,617.15 339.35,616.87 339.36,616.40 339.36,616.09 339.37,615.65 339.37,615.33 339.38,614.79 339.39,614.44 339.39,613.94 339.40,613.56 339.41,612.95 339.41,612.55 339.42,611.97 339.42,611.54 339.43,610.83 339.44,610.36 339.44,609.69 339.45,609.19 339.46,608.37 339.46,607.83 339.47,607.04 339.47,606.46 339.48,605.49 339.49,604.86 339.49,603.94 339.50,603.26 339.51,602.12 339.51,601.38 339.52,600.29 339.52,599.48 339.53,598.13 339.54,597.24 339.54,595.95 339.55,594.99 339.55,594.79 339.56,593.37 339.56,592.32 339.57,590.77 339.57,589.62 339.58,587.68 339.59,586.41 339.59,584.55 339.60,583.16 339.61,580.82 339.61,579.29 339.62,577.05 339.62,575.37 339.63,572.56 339.64,570.71 339.64,568.01 339.65,565.99 339.66,562.62 339.66,560.41 339.67,557.18 339.67,554.79 339.68,550.79 339.69,548.19 339.69,544.42 339.70,541.63 339.71,537.03 339.71,534.07 339.72,529.81 339.72,526.71 339.73,521.66 339.74,518.47 339.74,513.96 339.75,510.74 339.76,505.61 339.76,502.45 339.77,498.11 339.77,495.09 339.78,490.44 339.79,487.68 339.79,484.02 339.80,481.57 339.81,477.96 339.81,475.91 339.82,473.33 339.82,471.69 339.83,469.43 339.84,468.23 339.84,466.85 339.85,466.06 339.86,465.13 339.86,464.76 339.87,464.51 339.87,464.52 339.88,464.86 339.89,465.28 339.89,466.15 339.90,466.97 339.91,468.63 339.91,469.89 339.92,471.94 339.92,473.61 339.93,476.62 339.94,478.71 339.94,481.88 339.95,484.30 339.96,488.43 339.96,491.15 339.97,495.08 339.97,497.97 339.98,502.68 339.99,505.66 339.99,509.85 340.00,512.83 340.01,517.54 340.01,520.44 340.02,524.42 340.02,527.19 340.03,531.49 340.04,534.08 340.04,537.58 340.05,539.98 340.05,540.45 340.06,543.65 340.06,545.84 340.07,548.76 340.07,550.75 340.08,553.75 340.09,555.52 340.09,557.86 340.10,559.44 340.11,561.81 340.11,563.20 340.12,565.02 340.12,566.23 340.13,568.04 340.14,569.08 340.14,570.44 340.15,571.33 340.16,572.64 340.16,573.38 340.17,574.33 340.17,574.94 340.18,575.81 340.19,576.29 340.19,576.87 340.20,577.23 340.21,577.70 340.21,577.93 340.22,578.18 340.22,578.30 340.23,578.39 340.24,578.39 340.24,578.31 340.25,578.20 340.26,577.92 340.26,577.69 340.27,577.28 340.27,576.93 340.28,576.27 340.29,575.79 340.29,575.03 340.30,574.43 340.31,573.35 340.31,572.60 340.32,571.46 340.32,570.58 340.33,569.03 340.34,567.99 340.34,566.41 340.35,565.21 340.36,563.13 340.36,561.75 340.37,559.68 340.37,558.11 340.38,555.44 340.39,553.66 340.39,551.04 340.40,549.07 340.41,545.74 340.41,543.55 340.42,540.34 340.42,537.95 340.43,533.96 340.44,531.36 340.44,527.60 340.45,524.84 340.46,520.30 340.46,517.40 340.47,513.28 340.47,510.30 340.48,505.52 340.49,502.54 340.49,498.41 340.50,495.52 340.51,491.01 340.51,488.30 340.52,484.68 340.52,482.24 340.53,478.60 340.54,476.52 340.54,473.88 340.55,472.18 340.55,471.86 340.56,469.82 340.56,468.57 340.57,467.11 340.57,466.26 340.58,465.26 340.59,464.84 340.59,464.53 340.60,464.50 340.61,464.78 340.61,465.15 340.62,465.95 340.62,466.72 340.63,468.29 340.64,469.49 340.64,471.46 340.65,473.07 340.66,476.01 340.66,478.06 340.67,481.21 340.67,483.63 340.68,487.81 340.69,490.58 340.69,494.64 340.70,497.64 340.71,502.60 340.71,505.77 340.72,510.25 340.72,513.47 340.73,518.62 340.74,521.82 340.74,526.24 340.75,529.35 340.76,534.21 340.76,537.17 340.77,541.20 340.77,544.00 340.78,548.32 340.79,550.91 340.79,554.42 340.80,556.82 340.81,560.52 340.81,562.72 340.82,565.68 340.82,567.71 340.83,570.80 340.84,572.64 340.84,575.11 340.85,576.80 340.86,579.37 340.86,580.89 340.87,582.94 340.87,584.34 340.88,586.47 340.89,587.74 340.89,589.44 340.90,590.60 340.91,592.37 340.91,593.42 340.92,594.84 340.92,595.81 340.93,597.29 340.94,598.17 340.94,599.36 340.95,600.17 340.96,601.41 340.96,602.16 340.97,603.16 340.97,603.84 340.98,604.89 340.99,605.52 340.99,606.37 341.00,606.96 341.01,607.85 341.01,608.39 341.02,609.12 341.02,609.62 341.03,610.38 341.04,610.85 341.04,611.47 341.05,611.90 341.05,611.99 341.06,612.57 341.06,612.97 341.07,613.51 341.07,613.88 341.08,614.46 341.09,614.80 341.09,615.28 341.10,615.60 341.11,616.11 341.11,616.41 341.12,616.82 341.12,617.11 341.13,617.55 341.14,617.82 341.14,618.18 341.15,618.44 341.16,618.83 341.16,619.07 341.17,619.39 341.17,619.61 341.18,619.96 341.19,620.17 341.19,620.46 341.20,620.66 341.21,620.97 341.21,621.15 341.22,621.41 341.22,621.59 341.23,621.87 341.24,622.04 341.24,622.27 341.25,622.43 341.26,622.68 341.26,622.83 341.27,623.03 341.27,623.18 341.28,623.40 341.29,623.54 341.29,623.73 341.30,623.86 341.31,624.06 341.31,624.19 341.32,624.36 341.32,624.48 341.33,624.66 341.34,624.78 341.34,624.93 341.35,625.04 341.36,625.21 341.36,625.31 341.37,625.45 341.37,625.55 341.38,625.71 341.39,625.80 341.39,625.93 341.40,626.02 341.41,626.16" fill="none" stroke="#555" stroke-width="0.9" stroke-linejoin="round"/>
<polyline points="379.35,626.08 379.35,626.06 379.36,625.95 379.36,625.93 379.38,625.61 379.38,625.59 379.38,625.47 379.39,625.45 379.40,625.09 379.40,625.07 379.41,624.94 379.41,624.92 379.43,624.53 379.43,624.51 379.44,624.36 379.44,624.34 379.45,623.91 379.45,623.88 379.46,623.72 379.46,623.70 379.48,623.22 379.48,623.19 379.49,623.01 379.49,622.98 379.50,622.45 379.50,622.42 379.51,622.22 379.51,622.19 379.53,621.59 379.53,621.56 379.54,621.34 379.54,621.30 379.55,620.75 379.55,620.63 379.55,620.59 379.56,620.34 379.56,620.30 379.58,619.55 379.58,619.50 379.58,619.22 379.59,619.17 379.60,618.32 379.60,618.26 379.61,617.94 379.61,617.89 379.63,616.91 379.63,616.85 379.63,616.49 379.64,616.42 379.65,615.30 379.65,615.23 379.66,614.81 379.66,614.74 379.68,613.44 379.68,613.36 379.69,612.87 379.69,612.79 379.70,611.28 379.70,611.19 379.71,610.61 379.71,610.51 379.73,608.75 379.73,608.64 379.74,607.96 379.74,607.85 379.75,605.76 379.75,605.63 379.76,604.83 379.76,604.69 379.78,602.21 379.78,602.06 379.79,601.10 379.79,600.94 379.80,597.97 379.80,597.79 379.81,596.64 379.81,596.44 379.83,592.88 379.83,592.65 379.83,591.27 379.84,591.03 379.85,586.73 379.85,586.46 379.86,584.79 379.86,584.50 379.88,579.32 379.88,578.99 379.88,576.99 379.89,576.65 379.90,570.46 379.90,570.07 379.91,567.70 379.91,567.29 379.93,560.06 379.93,559.61 379.94,556.88 379.94,556.42 379.95,548.29 379.95,547.80 379.96,544.83 379.96,544.33 379.98,535.86 379.98,535.36 379.99,532.43 379.99,531.94 380.00,524.16 380.00,523.74 380.01,521.29 380.01,520.91 380.03,515.28 380.03,515.01 380.04,513.59 380.04,513.38 380.05,511.40 380.05,511.21 380.05,511.17 380.06,511.09 380.06,511.11 380.08,512.79 380.08,512.96 380.08,514.15 380.09,514.38 380.10,519.09 380.10,519.41 380.11,521.42 380.11,521.77 380.13,528.02 380.13,528.40 380.13,530.69 380.14,531.08 380.15,537.47 380.15,537.83 380.16,539.98 380.16,540.34 380.18,545.95 380.18,546.25 380.19,548.03 380.19,548.31 380.20,552.69 380.20,552.92 380.21,554.22 380.21,554.43 380.23,557.42 380.23,557.56 380.24,558.37 380.24,558.49 380.25,560.09 380.25,560.15 380.26,560.47 380.26,560.51 380.28,560.72 380.28,560.71 380.29,560.54 380.29,560.50 380.30,559.35 380.30,559.25 380.31,558.60 380.31,558.48 380.33,555.94 380.33,555.76 380.33,554.62 380.34,554.42 380.35,550.47 380.35,550.21 380.36,548.57 380.36,548.29 380.38,542.96 380.38,542.62 380.38,540.52 380.39,540.16 380.40,533.64 380.40,533.23 380.41,530.77 380.41,530.36 380.43,523.15 380.43,522.72 380.44,520.16 380.44,519.74 380.45,512.78 380.45,512.39 380.46,510.14 380.46,509.78 380.48,504.39 380.48,504.13 380.49,502.66 380.49,502.44 380.50,499.80 380.50,499.71 380.51,499.34 380.51,499.30 380.53,499.75 380.53,499.84 380.54,500.47 380.54,500.59 380.55,502.81 380.55,503.37 380.55,503.57 380.56,504.79 380.56,505.00 380.58,508.69 380.58,508.90 380.58,510.18 380.59,510.39 380.60,513.61 380.60,513.78 380.61,514.71 380.61,514.85 380.63,516.68 380.63,516.75 380.63,517.08 380.64,517.12 380.65,517.12 380.65,517.08 380.66,516.75 380.66,516.68 380.68,514.85 380.68,514.71 380.69,513.78 380.69,513.61 380.70,510.39 380.70,510.18 380.71,508.90 380.71,508.69 380.73,505.00 380.73,504.79 380.74,503.57 380.74,503.37 380.75,500.59 380.75,500.47 380.76,499.84 380.76,499.75 380.78,499.30 380.78,499.34 380.79,499.71 380.79,499.80 380.80,502.44 380.80,502.66 380.81,504.13 380.81,504.39 380.83,509.78 380.83,510.14 380.83,512.39 380.84,512.78 380.85,519.73 380.85,520.16 380.86,522.72 380.86,523.15 380.88,530.36 380.88,530.77 380.88,533.23 380.89,533.64 380.90,540.15 380.90,540.52 380.91,542.62 380.91,542.96 380.93,548.29 380.93,548.57 380.94,550.21 380.94,550.47 380.95,554.42 380.95,554.62 380.96,555.76 380.96,555.94 380.98,558.48 380.98,558.60 380.99,559.25 380.99,559.35 381.00,560.50 381.00,560.54 381.01,560.70 381.01,560.72 381.03,560.51 381.03,560.47 381.04,560.15 381.04,560.08 381.05,558.84 381.05,558.49 381.05,558.37 381.06,557.56 381.06,557.42 381.08,554.43 381.08,554.22 381.08,552.92 381.09,552.69 381.10,548.31 381.10,548.03 381.11,546.25 381.11,545.95 381.13,540.33 381.13,539.98 381.13,537.83 381.14,537.47 381.15,531.07 381.15,530.69 381.16,528.40 381.16,528.02 381.18,521.77 381.18,521.42 381.19,519.41 381.19,519.08 381.20,514.38 381.20,514.15 381.21,512.96 381.21,512.79 381.23,511.11 381.23,511.09 381.24,511.17 381.24,511.21 381.25,513.38 381.25,513.59 381.26,515.01 381.26,515.28 381.28,520.90 381.28,521.29 381.29,523.74 381.29,524.16 381.30,531.94 381.30,532.42 381.31,535.36 381.31,535.85 381.33,544.33 381.33,544.83 381.33,547.80 381.34,548.29 381.35,556.42 381.35,556.88 381.36,559.61 381.36,560.05 381.38,567.29 381.38,567.70 381.38,570.07 381.39,570.45 381.40,576.65 381.40,576.99 381.41,578.99 381.41,579.32 381.43,584.50 381.43,584.79 381.44,586.45 381.44,586.73 381.45,591.03 381.45,591.27 381.46,592.65 381.46,592.87 381.48,596.44 381.48,596.64 381.49,597.79 381.49,597.97 381.50,600.94 381.50,601.10 381.51,602.06 381.51,602.21 381.53,604.69 381.53,604.83 381.54,605.63 381.54,605.76 381.55,607.49 381.55,607.85 381.55,607.96 381.56,608.64 381.56,608.75 381.58,610.51 381.58,610.61 381.58,611.19 381.59,611.28 381.60,612.79 381.60,612.87 381.61,613.36 381.61,613.44 381.63,614.74 381.63,614.81 381.63,615.23 381.64,615.30 381.65,616.42 381.65,616.48 381.66,616.85 381.66,616.91 381.68,617.89 381.68,617.94 381.69,618.26 381.69,618.32 381.70,619.17 381.70,619.22 381.71,619.50 381.71,619.55 381.73,620.30 381.73,620.34 381.74,620.59 381.74,620.63 381.75,621.30 381.75,621.33 381.76,621.56 381.76,621.59 381.78,622.19 381.78,622.22 381.79,622.42 381.79,622.45 381.80,622.98 381.80,623.01 381.81,623.19 381.81,623.22 381.83,623.69 381.83,623.72 381.83,623.88 381.84,623.91 381.85,624.34 381.85,624.36 381.86,624.50 381.86,624.53 381.88,624.92 381.88,624.94 381.88,625.07 381.89,625.09 381.90,625.45 381.90,625.47 381.91,625.59 381.91,625.61 381.93,625.93 381.93,625.95 381.94,626.06 381.94,626.07" fill="none" stroke="#555" stroke-width="0.9" stroke-linejoin="round"/>
<polyline points="410.52,625.97 410.54,625.57 410.55,625.36 410.56,625.14 410.58,624.67 410.60,624.16 410.62,623.61 410.64,622.99 410.66,622.32 410.68,621.58 410.70,620.76 410.72,619.86 410.74,618.84 410.76,617.71 410.78,616.43 410.80,614.99 410.82,613.35 410.84,611.48 410.86,609.33 410.88,606.84 410.90,603.95 410.92,600.56 410.94,596.57 410.96,591.82 410.98,586.15 411.00,579.32 411.02,571.06 411.04,561.04 411.05,555.26 411.06,548.91 411.08,534.33 411.10,517.18 411.12,497.77 411.14,477.29 411.16,458.22 411.18,444.18 411.22,443.28 411.24,456.42 411.26,474.56 411.28,494.09 411.30,512.52 411.32,528.64 411.34,542.13 411.36,553.12 411.38,561.91 411.40,568.84 411.42,574.22 411.44,578.31 411.46,581.31 411.48,583.36 411.50,584.58 411.52,585.02 411.54,584.72 411.55,584.29 411.56,583.68 411.58,581.87 411.60,579.24 411.62,575.68 411.64,571.06 411.66,565.18 411.68,557.79 411.70,548.58 411.72,537.13 411.74,522.96 411.76,505.55 411.78,484.42 411.80,459.36 412.00,462.42 412.02,488.16 412.04,510.00 412.05,519.52 412.06,528.17 412.08,543.14 412.10,555.46 412.12,565.63 412.14,574.06 412.16,581.09 412.18,586.99 412.20,591.98 412.22,596.23 412.24,599.87 412.26,603.01 412.28,605.73 412.30,608.11 412.32,610.19 412.34,612.03 412.36,613.66 412.38,615.11 412.40,616.41 412.42,617.57 412.44,618.61 412.46,619.56 412.48,620.42 412.50,621.20 412.52,621.91 412.54,622.56 412.55,622.86 412.56,623.15 412.58,623.70 412.60,624.20 412.62,624.67 412.64,625.10 412.66,625.50 412.68,625.87 415.62,625.95 415.64,625.58 415.66,625.18 415.68,624.75 415.70,624.29 415.72,623.79 415.74,623.24 415.76,622.65 415.78,622.00 415.80,621.29 415.82,620.51 415.84,619.66 415.86,618.71 415.88,617.67 415.90,616.51 415.92,615.22 415.94,613.77 415.96,612.14 415.98,610.31 416.00,608.22 416.02,605.85 416.04,603.13 416.05,601.62 416.06,599.99 416.08,596.35 416.10,592.11 416.12,587.12 416.14,581.22 416.16,574.19 416.18,565.77 416.20,555.61 416.22,543.29 416.24,528.32 416.26,510.15 416.28,488.32 416.30,462.58 416.50,459.58 416.52,484.65 416.54,505.79 416.55,514.94 416.56,523.21 416.58,537.39 416.60,548.85 416.62,558.08 416.64,565.48 416.66,571.38 416.68,576.02 416.70,579.60 416.72,582.26 416.74,584.09 416.76,585.16 416.78,585.50 416.80,585.10 416.82,583.94 416.84,581.95 416.86,579.02 416.88,575.01 416.90,569.73 416.92,562.92 416.94,554.28 416.96,543.48 416.98,530.21 417.00,514.34 417.02,496.20 417.04,476.98 417.05,467.68 417.06,459.12 417.08,446.20 417.10,441.69 417.12,447.10 417.14,460.94 417.16,479.72 417.18,499.89 417.20,519.02 417.22,535.92 417.24,550.28 417.26,562.23 417.28,572.11 417.30,580.25 417.32,586.98 417.34,592.57 417.36,597.25 417.38,601.19 417.40,604.53 417.42,607.38 417.44,609.83 417.46,611.95 417.48,613.80 417.50,615.42 417.52,616.84 417.54,618.11 417.55,618.68 417.56,619.23 417.58,620.23 417.60,621.13 417.62,621.94 417.64,622.67 417.66,623.34 417.68,623.94 417.70,624.49 417.72,625.00 417.74,625.46 417.76,625.89" fill="none" stroke="#555" stroke-width="0.9" stroke-linejoin="round"/>
<polyline points="815.67,625.47 815.69,624.61 815.72,623.63 815.74,622.49 815.77,621.17 815.79,619.63 815.82,617.81 815.84,615.65 815.87,613.08 815.89,609.99 815.92,606.25 815.94,601.72 815.97,596.20 815.99,589.50 816.02,581.44 816.04,571.92 816.05,568.16 816.07,561.13 816.09,549.74 816.12,539.13 816.14,531.35 816.17,528.40 816.19,531.17 816.22,538.83 816.24,549.38 816.27,560.77 816.29,571.59 816.32,581.15 816.34,589.27 816.37,596.01 816.39,601.56 816.42,606.12 816.44,609.88 816.47,612.99 816.49,615.58 816.52,617.74 816.54,619.57 816.55,620.16 816.57,621.13 816.59,622.45 816.62,623.59 816.64,624.58 816.67,625.44 816.69,626.20" fill="none" stroke="#555" stroke-width="0.9" stroke-linejoin="round"/>
<path d="M295.8 752.9V717.9L301.8 709.1V700.4M306.5 700.4V709.1L312.6 717.9V752.9" fill="none" stroke="#c04a5a" stroke-width="1"/>
<g transform="translate(310.40,752.5) rotate(-90)"><path transform="translate(0.00,0.00) scale(13.8,-13.8)" d="M0.27 0H0.405V0.716H0.30Q0.27 0.64 0.10 0.585V0.475Q0.20 0.50 0.27 0.545Z" fill="#d01c30"/><text x="7.67" font-family="Liberation Sans" font-weight="bold" font-size="13.8" fill="#d01c30">.000</text></g>
<path d="M332.0 752.9V717.9L337.8 709.1V700.4M343.7 700.4V709.1L349.5 717.9V752.9" fill="none" stroke="#c04a5a" stroke-width="1"/>
<text transform="translate(346.95,752.5) rotate(-90)" font-family="Liberation Sans" font-weight="bold" font-size="13.8" fill="#d01c30">0.969</text>
<path d="M371.9 752.9V717.9L377.4 709.1V700.4M382.8 700.4V709.1L388.6 717.9V752.9" fill="none" stroke="#c04a5a" stroke-width="1"/>
<g transform="translate(386.45,752.5) rotate(-90)"><path transform="translate(0.00,0.00) scale(13.8,-13.8)" d="M0.27 0H0.405V0.716H0.30Q0.27 0.64 0.10 0.585V0.475Q0.20 0.50 0.27 0.545Z" fill="#d01c30"/><text x="7.67" font-family="Liberation Sans" font-weight="bold" font-size="13.8" fill="#d01c30">.003</text></g>
<path d="M397.0 752.9V717.9L409.0 709.1V700.4M413.6 700.4V709.1L413.6 717.9V752.9" fill="none" stroke="#c04a5a" stroke-width="1"/>
<text transform="translate(411.50,752.5) rotate(-90)" font-family="Liberation Sans" font-weight="bold" font-size="13.8" fill="#d01c30">0.976</text>
<path d="M413.6 752.9V717.9L413.6 709.1V700.4M419.8 700.4V709.1L431.0 717.9V752.9" fill="none" stroke="#c04a5a" stroke-width="1"/>
<text transform="translate(428.50,752.5) rotate(-90)" font-family="Liberation Sans" font-weight="bold" font-size="13.8" fill="#d01c30">0.979</text>
<g fill="none" stroke="#3342aa" stroke-width="3.3">
<ellipse cx="1009.1" cy="129.9" rx="65" ry="22.8" transform="rotate(33.4 1009.1 129.9)"/>
<ellipse cx="1009.1" cy="129.9" rx="65" ry="22.8" transform="rotate(-33.4 1009.1 129.9)"/>
</g>
<circle cx="981.8" cy="91" r="4.6" fill="#3342aa"/><circle cx="981.8" cy="168.6" r="4.6" fill="#3342aa"/>
<rect x="920" y="117.8" width="175" height="23.8" fill="#fff"/>
<path fill="#111" fill-rule="evenodd" d="M926.05 120.2H947Q950.3 120.2 950.3 123.5V127.8Q950.3 129.7 949 130.2Q950.3 130.7 950.3 132.6V135.8Q950.3 139.1 947 139.1H926.05ZM934 125.9V128.5H942.7V125.9ZM934 132.3V135.3H943.1V132.3ZM955.2 120.2H975Q978.6 120.2 978.6 123.8V129Q978.6 131.8 976.5 132.7L978.6 139.1H970.3L968.4 132.7H962.4V139.1H955.2ZM962.4 125.9V128.5H970.3V125.9ZM983.2 120.2H989.6V132.7H999V120.2H1005.9V135Q1005.9 139.1 1001.8 139.1H987.3Q983.2 139.1 983.2 135ZM1009.9 120.2H1017.1V127.6L1024.3 120.2H1033.7L1027.7 129.7L1034.9 139.1H1025.8L1020.5 131.8L1017.1 134.6V139.1H1009.9ZM1039 120.2H1061V125.9H1046.2V128.5H1060V132.3H1046.2V135.3H1061V139.1H1039ZM1065.5 120.2H1086.1Q1089.7 120.2 1089.7 123.8V129Q1089.7 131.8 1087.6 132.7L1089.7 139.1H1081.4L1079.5 132.7H1073.5V139.1H1065.5ZM1073.5 125.9V128.5H1081.4V125.9Z"/>
<g font-family="Liberation Mono" font-size="12.45" fill="#6a6a6a"><text transform="translate(930.6,222.00) scale(1,0.9)" xml:space="preserve">Current Data Parameters</text>
<text transform="translate(930.6,234.35) scale(1,0.9)" xml:space="preserve">NAME     1O47O-83-4P2958618</text>
<text transform="translate(930.6,246.70) scale(1,0.9)" xml:space="preserve">EXPNO                 1</text>
<text transform="translate(930.6,259.05) scale(1,0.9)" xml:space="preserve">PROCNO                1</text>
<text transform="translate(930.6,283.75) scale(1,0.9)" xml:space="preserve">F2 - Acquisition Parameters</text>
<text transform="translate(930.6,296.10) scale(1,0.9)" xml:space="preserve">Date_          2O24O314</text>
<text transform="translate(930.6,308.45) scale(1,0.9)" xml:space="preserve">Time              16.42 h</text>
<text transform="translate(930.6,320.80) scale(1,0.9)" xml:space="preserve">INSTRUM          Avance</text>
<text transform="translate(930.6,333.15) scale(1,0.9)" xml:space="preserve">PROBHD   Z1547O5_O134 (</text>
<text transform="translate(930.6,345.50) scale(1,0.9)" xml:space="preserve">PULPROG            zg3O</text>
<text transform="translate(930.6,357.85) scale(1,0.9)" xml:space="preserve">TD                65536</text>
<text transform="translate(930.6,370.20) scale(1,0.9)" xml:space="preserve">SOLVENT           CDCl3</text>
<text transform="translate(930.6,382.55) scale(1,0.9)" xml:space="preserve">NS                    4</text>
<text transform="translate(930.6,394.90) scale(1,0.9)" xml:space="preserve">DS                    O</text>
<text transform="translate(930.6,407.25) scale(1,0.9)" xml:space="preserve">SWH           119O4.762 Hz</text>
<text transform="translate(930.6,419.60) scale(1,0.9)" xml:space="preserve">FIDRES         O.3633O4 Hz</text>
<text transform="translate(930.6,431.95) scale(1,0.9)" xml:space="preserve">AQ            2.752512O sec</text>
<text transform="translate(930.6,444.30) scale(1,0.9)" xml:space="preserve">RG                  1O1</text>
<text transform="translate(930.6,456.65) scale(1,0.9)" xml:space="preserve">DW               42.OOO usec</text>
<text transform="translate(930.6,469.00) scale(1,0.9)" xml:space="preserve">DE                 8.79 usec</text>
<text transform="translate(930.6,481.35) scale(1,0.9)" xml:space="preserve">TE                295.8 K</text>
<text transform="translate(930.6,493.70) scale(1,0.9)" xml:space="preserve">D1           1.OOOOOOOO sec</text>
<text transform="translate(930.6,506.05) scale(1,0.9)" xml:space="preserve">TDO                   1</text>
<text transform="translate(930.6,518.40) scale(1,0.9)" xml:space="preserve">SFO1        6OO.1537O59 MHz</text>
<text transform="translate(930.6,530.75) scale(1,0.9)" xml:space="preserve">NUC1                 1H</text>
<text transform="translate(930.6,543.10) scale(1,0.9)" xml:space="preserve">PO                 3.33 usec</text>
<text transform="translate(930.6,555.45) scale(1,0.9)" xml:space="preserve">P1                1O.OO usec</text>
<text transform="translate(930.6,567.80) scale(1,0.9)" xml:space="preserve">PLW1        21.87999916 W</text>
<text transform="translate(930.6,592.50) scale(1,0.9)" xml:space="preserve">F2 - Processing parameters</text>
<text transform="translate(930.6,604.85) scale(1,0.9)" xml:space="preserve">SI                65536</text>
<text transform="translate(930.6,617.20) scale(1,0.9)" xml:space="preserve">SF          6OO.15OOO19 MHz</text>
<text transform="translate(930.6,629.55) scale(1,0.9)" xml:space="preserve">WDW                  EM</text>
<text transform="translate(930.6,641.90) scale(1,0.9)" xml:space="preserve">SSB                   O</text>
<text transform="translate(930.6,654.25) scale(1,0.9)" xml:space="preserve">LB                 O.3O Hz</text>
<text transform="translate(930.6,666.60) scale(1,0.9)" xml:space="preserve">GB                    O</text>
<text transform="translate(930.6,678.95) scale(1,0.9)" xml:space="preserve">PC                 1.OO</text></g>
<g fill="none" stroke="#72bd44" stroke-width="3.6" stroke-linejoin="round" stroke-linecap="round">
<path d="M455.2 368.8L468.5 346H493.5L506.4 368.8L493.5 391.7H468.5Z"/>
<path d="M473.4 352.9H488.1M463.9 372.5L470.6 384M497.6 372.5L491.2 384"/>
</g>
<path d="M512.06 393.7V352.7H517.8L527.5 372.2L537.6 352.7H543V393.7H538V361.8L529.9 378.6H525.2L517.1 361.8V393.7ZM546.7 365.5H566.8V393.7H546.7ZM551.4 368.2V391.1H562.1V368.2ZM570.2 352.1H575.6V393.7H570.2ZM579 352.9H597.6L598.9 354.4V372.2L597.6 373.8L598.9 375.3V393.4H579ZM583.8 355.2V372.2H594.4V355.2ZM583.8 375.3V391.1H594.7V375.3ZM602.3 365.4H622.7V382.4H607.2V390.8H622.7V393.4H602.3ZM607.2 368.1V379.8H617.4V368.1ZM625 365.8H651.5V354.1H656.4V365.8H662.1V368.6H656.4V390.8H662.1V393.4H651.5V368.6H629.9V378.3H643.5L644.7 379.5V393.4H625V390.8H639.8V380.6H625Z" fill="#000" fill-rule="evenodd"/>
<text x="448.3" y="425.8" font-family="Liberation Sans" font-size="13.2" fill="#808080">molBest.com,180K+ Chemical Reagents In Stock.</text>
</svg></body></html>
